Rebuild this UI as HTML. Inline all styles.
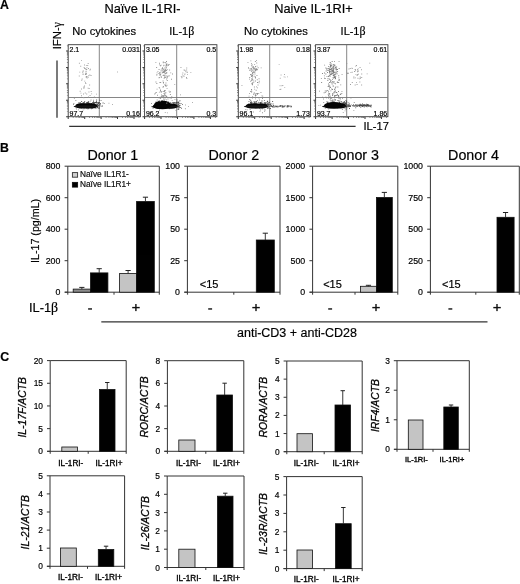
<!DOCTYPE html>
<html><head><meta charset="utf-8"><title>Figure</title>
<style>
html,body{margin:0;padding:0;background:#fff;}
body{width:520px;height:584px;overflow:hidden;font-family:'Liberation Sans', sans-serif;}
svg{display:block;will-change:transform;opacity:0.999;font-family:'Liberation Sans',sans-serif;}
</style></head><body>
<svg width="520" height="584" viewBox="0 0 520 584">
<rect x="0" y="0" width="520" height="584" fill="#ffffff"/>
<text x="-0.1" y="8.6" font-size="12.3" text-anchor="start" font-weight="bold" font-style="normal" fill="#000" stroke="#000" stroke-width="0.18">A</text>
<text x="-0.1" y="152.4" font-size="12.3" text-anchor="start" font-weight="bold" font-style="normal" fill="#000" stroke="#000" stroke-width="0.18">B</text>
<text x="0.2" y="361.0" font-size="12.3" text-anchor="start" font-weight="bold" font-style="normal" fill="#000" stroke="#000" stroke-width="0.18">C</text>
<text x="104.4" y="12.9" font-size="12.8" text-anchor="start" font-weight="normal" font-style="normal" fill="#000" stroke="#000" stroke-width="0.18">Naïve IL-1RI-</text>
<text x="274.2" y="12.9" font-size="12.8" text-anchor="start" font-weight="normal" font-style="normal" fill="#000" stroke="#000" stroke-width="0.18">Naive IL-1RI+</text>
<text x="72.3" y="34.8" font-size="11.15" text-anchor="start" font-weight="normal" font-style="normal" fill="#000" stroke="#000" stroke-width="0.18">No cytokines</text>
<text x="244.0" y="34.8" font-size="11.15" text-anchor="start" font-weight="normal" font-style="normal" fill="#000" stroke="#000" stroke-width="0.18">No cytokines</text>
<text x="169.3" y="34.8" font-size="10.95" fill="#000" stroke="#000" stroke-width="0.18">IL-1<tspan font-family="Liberation Serif, serif" font-size="11.9">β</tspan></text>
<text x="340.6" y="34.8" font-size="10.95" fill="#000" stroke="#000" stroke-width="0.18">IL-1<tspan font-family="Liberation Serif, serif" font-size="11.9">β</tspan></text>
<text x="61.4" y="49.3" font-size="11.3" fill="#000" stroke="#000" stroke-width="0.18" transform="rotate(-90 61.4 49.3)">IFN-<tspan font-family="Liberation Serif, serif" font-size="11.5">γ</tspan></text>
<line x1="57" y1="60.5" x2="57" y2="117.7" stroke="#333" stroke-width="1.3"/>
<line x1="69.2" y1="126.4" x2="355.6" y2="126.4" stroke="#333" stroke-width="1.2"/>
<text x="363.4" y="129.7" font-size="11.2" text-anchor="start" font-weight="normal" font-style="normal" fill="#000" stroke="#000" stroke-width="0.18">IL-17</text>
<rect x="68.20" y="44.70" width="72.30" height="72.00" fill="none" stroke="#3a3a3a" stroke-width="0.9"/>
<line x1="99.3" y1="44.7" x2="99.3" y2="116.7" stroke="#707070" stroke-width="0.85"/>
<line x1="68.2" y1="97.5" x2="140.5" y2="97.5" stroke="#707070" stroke-width="0.85"/>
<path d="M66.1 116.2h2v1h-2zM67.7 116.9h1v2h-1zM66.1 99.8h2v1h-2zM84.2 116.9h1v2h-1zM66.1 83.3h2v1h-2zM100.6 116.9h1v2h-1zM66.1 66.9h2v1h-2zM117.0 116.9h1v2h-1zM66.1 50.4h2v1h-2zM133.5 116.9h1v2h-1z" fill="#333"/>
<path d="M66.9 111.4h1.1v0.7h-1.1zM72.8 117.0h0.7v1.1h-0.7zM66.9 108.5h1.1v0.7h-1.1zM75.7 117.0h0.7v1.1h-0.7zM66.9 106.4h1.1v0.7h-1.1zM77.8 117.0h0.7v1.1h-0.7zM66.9 104.9h1.1v0.7h-1.1zM79.3 117.0h0.7v1.1h-0.7zM66.9 103.5h1.1v0.7h-1.1zM80.7 117.0h0.7v1.1h-0.7zM66.9 102.4h1.1v0.7h-1.1zM81.8 117.0h0.7v1.1h-0.7zM66.9 101.5h1.1v0.7h-1.1zM82.7 117.0h0.7v1.1h-0.7zM66.9 100.7h1.1v0.7h-1.1zM83.5 117.0h0.7v1.1h-0.7zM66.9 94.9h1.1v0.7h-1.1zM89.3 117.0h0.7v1.1h-0.7zM66.9 92.1h1.1v0.7h-1.1zM92.1 117.0h0.7v1.1h-0.7zM66.9 90.0h1.1v0.7h-1.1zM94.2 117.0h0.7v1.1h-0.7zM66.9 88.4h1.1v0.7h-1.1zM95.8 117.0h0.7v1.1h-0.7zM66.9 87.1h1.1v0.7h-1.1zM97.1 117.0h0.7v1.1h-0.7zM66.9 86.0h1.1v0.7h-1.1zM98.2 117.0h0.7v1.1h-0.7zM66.9 85.0h1.1v0.7h-1.1zM99.2 117.0h0.7v1.1h-0.7zM66.9 84.2h1.1v0.7h-1.1zM100.0 117.0h0.7v1.1h-0.7zM66.9 78.5h1.1v0.7h-1.1zM105.7 117.0h0.7v1.1h-0.7zM66.9 75.6h1.1v0.7h-1.1zM108.6 117.0h0.7v1.1h-0.7zM66.9 73.5h1.1v0.7h-1.1zM110.7 117.0h0.7v1.1h-0.7zM66.9 72.0h1.1v0.7h-1.1zM112.2 117.0h0.7v1.1h-0.7zM66.9 70.6h1.1v0.7h-1.1zM113.6 117.0h0.7v1.1h-0.7zM66.9 69.5h1.1v0.7h-1.1zM114.7 117.0h0.7v1.1h-0.7zM66.9 68.6h1.1v0.7h-1.1zM115.6 117.0h0.7v1.1h-0.7zM66.9 67.8h1.1v0.7h-1.1zM116.4 117.0h0.7v1.1h-0.7zM66.9 62.0h1.1v0.7h-1.1zM122.2 117.0h0.7v1.1h-0.7zM66.9 59.2h1.1v0.7h-1.1zM125.0 117.0h0.7v1.1h-0.7zM66.9 57.1h1.1v0.7h-1.1zM127.1 117.0h0.7v1.1h-0.7zM66.9 55.5h1.1v0.7h-1.1zM128.7 117.0h0.7v1.1h-0.7zM66.9 54.2h1.1v0.7h-1.1zM130.0 117.0h0.7v1.1h-0.7zM66.9 53.1h1.1v0.7h-1.1zM131.1 117.0h0.7v1.1h-0.7zM66.9 52.1h1.1v0.7h-1.1zM132.1 117.0h0.7v1.1h-0.7zM66.9 51.3h1.1v0.7h-1.1zM132.9 117.0h0.7v1.1h-0.7zM66.9 45.6h1.1v0.7h-1.1zM138.6 117.0h0.7v1.1h-0.7z" fill="#6a6a6a"/>
<text x="69.5" y="51.8" font-size="7.0" text-anchor="start" font-weight="normal" font-style="normal" fill="#000" stroke="#000" stroke-width="0.18">2.1</text>
<text x="139.8" y="51.8" font-size="7.0" text-anchor="end" font-weight="normal" font-style="normal" fill="#000" stroke="#000" stroke-width="0.18">0.031</text>
<text x="69.5" y="116.0" font-size="7.0" text-anchor="start" font-weight="normal" font-style="normal" fill="#000" stroke="#000" stroke-width="0.18">97.7</text>
<text x="139.8" y="116.0" font-size="7.0" text-anchor="end" font-weight="normal" font-style="normal" fill="#000" stroke="#000" stroke-width="0.18">0.16</text>
<path d="M85.4 106.3h0.9v0.9h-0.9zM85.6 104.0h0.9v0.9h-0.9zM80.7 104.3h0.9v0.9h-0.9zM95.0 106.1h0.9v0.9h-0.9zM94.5 105.6h0.9v0.9h-0.9zM90.0 105.4h0.9v0.9h-0.9zM75.5 107.3h0.9v0.9h-0.9zM90.7 106.3h0.9v0.9h-0.9zM75.4 100.0h0.9v0.9h-0.9zM81.0 103.6h0.9v0.9h-0.9zM89.3 104.8h0.9v0.9h-0.9zM90.8 103.1h0.9v0.9h-0.9zM89.4 106.0h0.9v0.9h-0.9zM82.6 109.7h0.9v0.9h-0.9zM91.1 108.3h0.9v0.9h-0.9zM82.9 102.8h0.9v0.9h-0.9zM84.8 104.6h0.9v0.9h-0.9zM91.6 105.6h0.9v0.9h-0.9zM84.1 102.2h0.9v0.9h-0.9zM83.6 108.3h0.9v0.9h-0.9zM81.5 105.6h0.9v0.9h-0.9zM90.2 100.7h0.9v0.9h-0.9zM87.5 108.6h0.9v0.9h-0.9zM73.1 104.0h0.9v0.9h-0.9zM86.5 102.6h0.9v0.9h-0.9zM90.7 104.7h0.9v0.9h-0.9zM76.9 107.2h0.9v0.9h-0.9zM91.9 107.5h0.9v0.9h-0.9zM97.3 105.9h0.9v0.9h-0.9zM88.0 101.3h0.9v0.9h-0.9zM91.5 103.2h0.9v0.9h-0.9zM84.0 101.4h0.9v0.9h-0.9zM80.4 103.4h0.9v0.9h-0.9zM96.2 99.2h0.9v0.9h-0.9zM77.0 105.6h0.9v0.9h-0.9zM97.3 106.5h0.9v0.9h-0.9zM73.9 97.8h0.9v0.9h-0.9zM89.7 102.8h0.9v0.9h-0.9zM79.4 107.6h0.9v0.9h-0.9zM94.9 105.3h0.9v0.9h-0.9zM88.9 106.1h0.9v0.9h-0.9zM98.4 106.6h0.9v0.9h-0.9zM90.8 106.4h0.9v0.9h-0.9zM76.2 108.5h0.9v0.9h-0.9zM93.9 106.4h0.9v0.9h-0.9zM73.4 103.1h0.9v0.9h-0.9zM93.1 99.8h0.9v0.9h-0.9zM85.9 107.8h0.9v0.9h-0.9zM78.0 109.4h0.9v0.9h-0.9zM91.1 104.5h0.9v0.9h-0.9zM89.5 106.7h0.9v0.9h-0.9zM88.0 108.1h0.9v0.9h-0.9zM82.6 103.7h0.9v0.9h-0.9zM94.5 105.0h0.9v0.9h-0.9zM81.0 107.6h0.9v0.9h-0.9zM97.5 103.7h0.9v0.9h-0.9zM77.5 104.5h0.9v0.9h-0.9zM86.2 104.1h0.9v0.9h-0.9zM97.0 102.0h0.9v0.9h-0.9zM96.0 101.3h0.9v0.9h-0.9zM81.7 106.7h0.9v0.9h-0.9zM95.1 107.3h0.9v0.9h-0.9zM89.6 105.3h0.9v0.9h-0.9zM88.3 106.5h0.9v0.9h-0.9zM86.0 105.7h0.9v0.9h-0.9zM91.2 104.9h0.9v0.9h-0.9zM92.5 106.5h0.9v0.9h-0.9zM101.3 105.8h0.9v0.9h-0.9zM84.2 103.9h0.9v0.9h-0.9zM87.1 107.5h0.9v0.9h-0.9z" fill="#8a8a8a"/>
<path d="M95.9 105.5h0.9v0.9h-0.9zM100.6 99.9h0.9v0.9h-0.9zM94.1 105.3h0.9v0.9h-0.9zM97.5 105.3h0.9v0.9h-0.9zM95.7 106.0h0.9v0.9h-0.9zM97.2 103.8h0.9v0.9h-0.9zM101.9 105.5h0.9v0.9h-0.9zM95.4 104.6h0.9v0.9h-0.9zM96.1 104.7h0.9v0.9h-0.9zM90.6 103.9h0.9v0.9h-0.9zM98.8 102.6h0.9v0.9h-0.9zM96.5 106.6h0.9v0.9h-0.9zM98.5 107.6h0.9v0.9h-0.9zM92.9 104.1h0.9v0.9h-0.9zM95.8 106.0h0.9v0.9h-0.9zM99.0 99.7h0.9v0.9h-0.9zM99.0 102.0h0.9v0.9h-0.9zM98.1 102.0h0.9v0.9h-0.9zM97.0 107.1h0.9v0.9h-0.9zM96.3 105.2h0.9v0.9h-0.9zM98.4 105.1h0.9v0.9h-0.9zM96.4 107.7h0.9v0.9h-0.9zM98.9 104.2h0.9v0.9h-0.9zM102.6 102.6h0.9v0.9h-0.9zM98.6 104.3h0.9v0.9h-0.9zM96.9 106.1h0.9v0.9h-0.9zM97.1 106.0h0.9v0.9h-0.9zM93.2 101.9h0.9v0.9h-0.9zM98.0 103.0h0.9v0.9h-0.9zM94.3 102.0h0.9v0.9h-0.9zM99.4 106.2h0.9v0.9h-0.9zM99.8 103.0h0.9v0.9h-0.9zM96.6 102.6h0.9v0.9h-0.9zM98.3 107.8h0.9v0.9h-0.9zM94.6 107.8h0.9v0.9h-0.9zM98.8 104.5h0.9v0.9h-0.9zM92.3 107.5h0.9v0.9h-0.9zM96.4 103.7h0.9v0.9h-0.9zM97.5 105.6h0.9v0.9h-0.9zM99.9 102.9h0.9v0.9h-0.9zM99.1 107.6h0.9v0.9h-0.9zM99.8 104.5h0.9v0.9h-0.9zM95.0 106.7h0.9v0.9h-0.9zM96.9 105.0h0.9v0.9h-0.9zM99.7 104.3h0.9v0.9h-0.9zM88.2 103.6h0.9v0.9h-0.9zM95.1 102.2h0.9v0.9h-0.9zM94.2 102.8h0.9v0.9h-0.9zM83.6 103.3h0.9v0.9h-0.9zM82.6 101.9h0.9v0.9h-0.9zM86.1 102.2h0.9v0.9h-0.9zM80.4 103.4h0.9v0.9h-0.9zM86.9 102.1h0.9v0.9h-0.9zM89.4 103.5h0.9v0.9h-0.9zM96.0 102.0h0.9v0.9h-0.9zM87.7 101.4h0.9v0.9h-0.9zM78.2 102.4h0.9v0.9h-0.9zM86.5 102.6h0.9v0.9h-0.9zM93.6 102.7h0.9v0.9h-0.9zM81.2 101.0h0.9v0.9h-0.9zM88.8 102.9h0.9v0.9h-0.9zM84.3 101.3h0.9v0.9h-0.9zM93.3 102.5h0.9v0.9h-0.9zM79.9 101.9h0.9v0.9h-0.9zM83.3 102.3h0.9v0.9h-0.9zM93.1 101.3h0.9v0.9h-0.9zM92.8 102.5h0.9v0.9h-0.9zM95.9 101.3h0.9v0.9h-0.9zM87.8 103.1h0.9v0.9h-0.9zM87.9 102.2h0.9v0.9h-0.9zM88.4 101.6h0.9v0.9h-0.9zM87.3 104.0h0.9v0.9h-0.9zM95.2 102.0h0.9v0.9h-0.9zM96.5 102.5h0.9v0.9h-0.9zM96.5 103.9h0.9v0.9h-0.9zM94.4 102.9h0.9v0.9h-0.9zM86.6 103.0h0.9v0.9h-0.9zM79.2 102.6h0.9v0.9h-0.9zM91.1 103.0h0.9v0.9h-0.9zM93.3 103.1h0.9v0.9h-0.9zM92.0 102.3h0.9v0.9h-0.9zM90.9 103.9h0.9v0.9h-0.9zM97.0 104.2h0.9v0.9h-0.9zM82.1 103.6h0.9v0.9h-0.9zM87.4 102.3h0.9v0.9h-0.9z" fill="#4a4a4a"/>
<rect x="75.4" y="103.35" width="21.6" height="5.25" rx="5.5" ry="2.65" fill="#050505"/>
<ellipse cx="85.7" cy="106.50" rx="12.2" ry="1.3" fill="#151515"/>
<rect x="144.60" y="44.70" width="72.30" height="72.00" fill="none" stroke="#3a3a3a" stroke-width="0.9"/>
<line x1="176.7" y1="44.7" x2="176.7" y2="116.7" stroke="#707070" stroke-width="0.85"/>
<line x1="144.6" y1="97.5" x2="216.89999999999998" y2="97.5" stroke="#707070" stroke-width="0.85"/>
<path d="M142.5 116.2h2v1h-2zM144.1 116.9h1v2h-1zM142.5 99.8h2v1h-2zM160.5 116.9h1v2h-1zM142.5 83.3h2v1h-2zM177.0 116.9h1v2h-1zM142.5 66.9h2v1h-2zM193.4 116.9h1v2h-1zM142.5 50.4h2v1h-2zM209.9 116.9h1v2h-1z" fill="#333"/>
<path d="M143.3 111.4h1.1v0.7h-1.1zM149.2 117.0h0.7v1.1h-0.7zM143.3 108.5h1.1v0.7h-1.1zM152.1 117.0h0.7v1.1h-0.7zM143.3 106.4h1.1v0.7h-1.1zM154.2 117.0h0.7v1.1h-0.7zM143.3 104.9h1.1v0.7h-1.1zM155.7 117.0h0.7v1.1h-0.7zM143.3 103.5h1.1v0.7h-1.1zM157.1 117.0h0.7v1.1h-0.7zM143.3 102.4h1.1v0.7h-1.1zM158.2 117.0h0.7v1.1h-0.7zM143.3 101.5h1.1v0.7h-1.1zM159.1 117.0h0.7v1.1h-0.7zM143.3 100.7h1.1v0.7h-1.1zM159.9 117.0h0.7v1.1h-0.7zM143.3 94.9h1.1v0.7h-1.1zM165.7 117.0h0.7v1.1h-0.7zM143.3 92.1h1.1v0.7h-1.1zM168.5 117.0h0.7v1.1h-0.7zM143.3 90.0h1.1v0.7h-1.1zM170.6 117.0h0.7v1.1h-0.7zM143.3 88.4h1.1v0.7h-1.1zM172.2 117.0h0.7v1.1h-0.7zM143.3 87.1h1.1v0.7h-1.1zM173.5 117.0h0.7v1.1h-0.7zM143.3 86.0h1.1v0.7h-1.1zM174.6 117.0h0.7v1.1h-0.7zM143.3 85.0h1.1v0.7h-1.1zM175.6 117.0h0.7v1.1h-0.7zM143.3 84.2h1.1v0.7h-1.1zM176.4 117.0h0.7v1.1h-0.7zM143.3 78.5h1.1v0.7h-1.1zM182.1 117.0h0.7v1.1h-0.7zM143.3 75.6h1.1v0.7h-1.1zM185.0 117.0h0.7v1.1h-0.7zM143.3 73.5h1.1v0.7h-1.1zM187.1 117.0h0.7v1.1h-0.7zM143.3 72.0h1.1v0.7h-1.1zM188.6 117.0h0.7v1.1h-0.7zM143.3 70.6h1.1v0.7h-1.1zM190.0 117.0h0.7v1.1h-0.7zM143.3 69.5h1.1v0.7h-1.1zM191.1 117.0h0.7v1.1h-0.7zM143.3 68.6h1.1v0.7h-1.1zM192.0 117.0h0.7v1.1h-0.7zM143.3 67.8h1.1v0.7h-1.1zM192.8 117.0h0.7v1.1h-0.7zM143.3 62.0h1.1v0.7h-1.1zM198.6 117.0h0.7v1.1h-0.7zM143.3 59.2h1.1v0.7h-1.1zM201.4 117.0h0.7v1.1h-0.7zM143.3 57.1h1.1v0.7h-1.1zM203.5 117.0h0.7v1.1h-0.7zM143.3 55.5h1.1v0.7h-1.1zM205.1 117.0h0.7v1.1h-0.7zM143.3 54.2h1.1v0.7h-1.1zM206.4 117.0h0.7v1.1h-0.7zM143.3 53.1h1.1v0.7h-1.1zM207.5 117.0h0.7v1.1h-0.7zM143.3 52.1h1.1v0.7h-1.1zM208.5 117.0h0.7v1.1h-0.7zM143.3 51.3h1.1v0.7h-1.1zM209.3 117.0h0.7v1.1h-0.7zM143.3 45.6h1.1v0.7h-1.1zM215.0 117.0h0.7v1.1h-0.7z" fill="#6a6a6a"/>
<text x="145.9" y="51.8" font-size="7.0" text-anchor="start" font-weight="normal" font-style="normal" fill="#000" stroke="#000" stroke-width="0.18">3.05</text>
<text x="216.2" y="51.8" font-size="7.0" text-anchor="end" font-weight="normal" font-style="normal" fill="#000" stroke="#000" stroke-width="0.18">0.5</text>
<text x="145.9" y="116.0" font-size="7.0" text-anchor="start" font-weight="normal" font-style="normal" fill="#000" stroke="#000" stroke-width="0.18">96.2</text>
<text x="216.2" y="116.0" font-size="7.0" text-anchor="end" font-weight="normal" font-style="normal" fill="#000" stroke="#000" stroke-width="0.18">0.3</text>
<path d="M179.5 104.8h0.9v0.9h-0.9zM170.2 107.6h0.9v0.9h-0.9zM159.9 104.9h0.9v0.9h-0.9zM168.3 107.4h0.9v0.9h-0.9zM166.0 104.6h0.9v0.9h-0.9zM159.1 104.1h0.9v0.9h-0.9zM172.5 105.4h0.9v0.9h-0.9zM160.3 102.7h0.9v0.9h-0.9zM184.9 108.3h0.9v0.9h-0.9zM170.7 97.8h0.9v0.9h-0.9zM170.6 106.4h0.9v0.9h-0.9zM178.0 106.3h0.9v0.9h-0.9zM165.8 106.6h0.9v0.9h-0.9zM152.6 108.0h0.9v0.9h-0.9zM168.5 103.1h0.9v0.9h-0.9zM175.5 110.2h0.9v0.9h-0.9zM156.4 103.2h0.9v0.9h-0.9zM168.3 105.6h0.9v0.9h-0.9zM163.5 102.4h0.9v0.9h-0.9zM181.1 108.0h0.9v0.9h-0.9zM157.9 101.3h0.9v0.9h-0.9zM178.2 107.9h0.9v0.9h-0.9zM179.0 107.4h0.9v0.9h-0.9zM160.1 105.8h0.9v0.9h-0.9zM151.1 103.0h0.9v0.9h-0.9zM165.8 106.6h0.9v0.9h-0.9zM161.2 104.8h0.9v0.9h-0.9zM169.5 106.2h0.9v0.9h-0.9zM170.7 105.7h0.9v0.9h-0.9zM164.0 107.3h0.9v0.9h-0.9zM166.6 102.8h0.9v0.9h-0.9zM161.9 105.1h0.9v0.9h-0.9zM165.5 105.5h0.9v0.9h-0.9zM166.2 105.6h0.9v0.9h-0.9zM165.3 101.6h0.9v0.9h-0.9zM169.2 108.1h0.9v0.9h-0.9zM169.3 104.6h0.9v0.9h-0.9zM169.4 102.4h0.9v0.9h-0.9zM153.0 105.3h0.9v0.9h-0.9zM159.7 107.2h0.9v0.9h-0.9zM158.7 97.7h0.9v0.9h-0.9zM159.0 109.5h0.9v0.9h-0.9zM163.6 101.3h0.9v0.9h-0.9zM160.9 106.6h0.9v0.9h-0.9zM169.7 105.6h0.9v0.9h-0.9zM176.6 107.1h0.9v0.9h-0.9zM166.1 106.8h0.9v0.9h-0.9zM177.8 107.8h0.9v0.9h-0.9zM173.4 102.1h0.9v0.9h-0.9zM165.2 107.1h0.9v0.9h-0.9zM164.2 108.1h0.9v0.9h-0.9zM170.4 107.6h0.9v0.9h-0.9zM164.8 112.2h0.9v0.9h-0.9zM174.9 104.5h0.9v0.9h-0.9zM166.9 112.4h0.9v0.9h-0.9zM163.8 107.5h0.9v0.9h-0.9zM173.1 105.1h0.9v0.9h-0.9zM158.1 105.6h0.9v0.9h-0.9zM168.8 108.3h0.9v0.9h-0.9zM171.7 105.2h0.9v0.9h-0.9zM172.2 106.6h0.9v0.9h-0.9zM167.7 105.3h0.9v0.9h-0.9zM164.5 107.0h0.9v0.9h-0.9zM158.9 103.3h0.9v0.9h-0.9zM166.3 101.0h0.9v0.9h-0.9zM163.2 99.5h0.9v0.9h-0.9zM161.5 106.7h0.9v0.9h-0.9zM170.2 104.9h0.9v0.9h-0.9zM164.6 101.1h0.9v0.9h-0.9zM179.0 106.5h0.9v0.9h-0.9z" fill="#8a8a8a"/>
<path d="M179.4 103.1h0.9v0.9h-0.9zM176.6 101.3h0.9v0.9h-0.9zM178.7 106.6h0.9v0.9h-0.9zM172.8 104.7h0.9v0.9h-0.9zM178.4 101.5h0.9v0.9h-0.9zM173.0 102.8h0.9v0.9h-0.9zM175.6 102.1h0.9v0.9h-0.9zM177.1 105.3h0.9v0.9h-0.9zM178.4 106.1h0.9v0.9h-0.9zM180.3 107.0h0.9v0.9h-0.9zM174.1 103.8h0.9v0.9h-0.9zM174.7 102.8h0.9v0.9h-0.9zM176.8 104.8h0.9v0.9h-0.9zM178.1 101.8h0.9v0.9h-0.9zM174.3 104.8h0.9v0.9h-0.9zM176.6 104.2h0.9v0.9h-0.9zM176.9 103.4h0.9v0.9h-0.9zM178.5 105.5h0.9v0.9h-0.9zM176.8 103.5h0.9v0.9h-0.9zM176.6 99.6h0.9v0.9h-0.9zM174.8 104.9h0.9v0.9h-0.9zM173.7 105.2h0.9v0.9h-0.9zM177.3 102.2h0.9v0.9h-0.9zM176.4 104.2h0.9v0.9h-0.9zM178.0 106.0h0.9v0.9h-0.9zM176.9 103.2h0.9v0.9h-0.9zM176.7 104.7h0.9v0.9h-0.9zM178.6 105.4h0.9v0.9h-0.9zM175.4 102.2h0.9v0.9h-0.9zM176.2 103.4h0.9v0.9h-0.9zM174.6 104.6h0.9v0.9h-0.9zM175.9 105.0h0.9v0.9h-0.9zM178.2 104.0h0.9v0.9h-0.9zM182.1 104.2h0.9v0.9h-0.9zM179.4 105.0h0.9v0.9h-0.9zM179.5 100.3h0.9v0.9h-0.9zM175.3 105.3h0.9v0.9h-0.9zM178.3 109.2h0.9v0.9h-0.9zM177.7 107.2h0.9v0.9h-0.9zM178.7 106.6h0.9v0.9h-0.9zM178.1 104.5h0.9v0.9h-0.9zM178.1 102.8h0.9v0.9h-0.9zM179.6 102.9h0.9v0.9h-0.9zM177.5 108.8h0.9v0.9h-0.9zM176.5 104.8h0.9v0.9h-0.9zM155.6 101.5h0.9v0.9h-0.9zM162.3 102.7h0.9v0.9h-0.9zM158.7 102.1h0.9v0.9h-0.9zM174.4 103.3h0.9v0.9h-0.9zM155.5 102.6h0.9v0.9h-0.9zM158.2 100.7h0.9v0.9h-0.9zM176.3 102.1h0.9v0.9h-0.9zM162.0 100.5h0.9v0.9h-0.9zM163.9 99.7h0.9v0.9h-0.9zM168.8 104.9h0.9v0.9h-0.9zM163.6 101.9h0.9v0.9h-0.9zM156.6 103.0h0.9v0.9h-0.9zM157.8 103.0h0.9v0.9h-0.9zM176.6 101.9h0.9v0.9h-0.9zM161.1 102.5h0.9v0.9h-0.9zM159.8 103.8h0.9v0.9h-0.9zM163.9 104.6h0.9v0.9h-0.9zM173.8 102.0h0.9v0.9h-0.9zM169.7 104.6h0.9v0.9h-0.9zM167.9 101.4h0.9v0.9h-0.9zM171.7 104.1h0.9v0.9h-0.9zM165.6 103.1h0.9v0.9h-0.9zM172.4 102.1h0.9v0.9h-0.9zM156.6 102.0h0.9v0.9h-0.9zM176.4 103.4h0.9v0.9h-0.9zM163.2 103.4h0.9v0.9h-0.9zM162.2 102.4h0.9v0.9h-0.9zM161.4 99.9h0.9v0.9h-0.9zM170.3 102.2h0.9v0.9h-0.9zM164.4 103.8h0.9v0.9h-0.9zM159.3 103.0h0.9v0.9h-0.9zM175.9 103.2h0.9v0.9h-0.9zM166.7 103.0h0.9v0.9h-0.9zM177.9 104.7h0.9v0.9h-0.9zM165.6 103.0h0.9v0.9h-0.9zM157.5 103.1h0.9v0.9h-0.9zM163.2 103.2h0.9v0.9h-0.9zM161.3 103.0h0.9v0.9h-0.9zM168.3 103.9h0.9v0.9h-0.9zM164.8 101.5h0.9v0.9h-0.9z" fill="#4a4a4a"/>
<rect x="153.1" y="103.55" width="24.3" height="5.25" rx="5.5" ry="2.65" fill="#050505"/>
<ellipse cx="164.8" cy="106.70" rx="13.6" ry="1.3" fill="#151515"/>
<ellipse cx="162.5" cy="105.0" rx="8.5" ry="4.2" fill="#050505"/>
<ellipse cx="160" cy="106.6" rx="7" ry="2.4" fill="#050505"/>
<rect x="238.30" y="44.70" width="72.30" height="72.00" fill="none" stroke="#3a3a3a" stroke-width="0.9"/>
<line x1="269.7" y1="44.7" x2="269.7" y2="116.7" stroke="#707070" stroke-width="0.85"/>
<line x1="238.3" y1="97.5" x2="310.6" y2="97.5" stroke="#707070" stroke-width="0.85"/>
<path d="M236.2 116.2h2v1h-2zM237.8 116.9h1v2h-1zM236.2 99.8h2v1h-2zM254.2 116.9h1v2h-1zM236.2 83.3h2v1h-2zM270.7 116.9h1v2h-1zM236.2 66.9h2v1h-2zM287.1 116.9h1v2h-1zM236.2 50.4h2v1h-2zM303.6 116.9h1v2h-1z" fill="#333"/>
<path d="M237.0 111.4h1.1v0.7h-1.1zM242.9 117.0h0.7v1.1h-0.7zM237.0 108.5h1.1v0.7h-1.1zM245.8 117.0h0.7v1.1h-0.7zM237.0 106.4h1.1v0.7h-1.1zM247.9 117.0h0.7v1.1h-0.7zM237.0 104.9h1.1v0.7h-1.1zM249.4 117.0h0.7v1.1h-0.7zM237.0 103.5h1.1v0.7h-1.1zM250.8 117.0h0.7v1.1h-0.7zM237.0 102.4h1.1v0.7h-1.1zM251.9 117.0h0.7v1.1h-0.7zM237.0 101.5h1.1v0.7h-1.1zM252.8 117.0h0.7v1.1h-0.7zM237.0 100.7h1.1v0.7h-1.1zM253.6 117.0h0.7v1.1h-0.7zM237.0 94.9h1.1v0.7h-1.1zM259.4 117.0h0.7v1.1h-0.7zM237.0 92.1h1.1v0.7h-1.1zM262.2 117.0h0.7v1.1h-0.7zM237.0 90.0h1.1v0.7h-1.1zM264.3 117.0h0.7v1.1h-0.7zM237.0 88.4h1.1v0.7h-1.1zM265.9 117.0h0.7v1.1h-0.7zM237.0 87.1h1.1v0.7h-1.1zM267.2 117.0h0.7v1.1h-0.7zM237.0 86.0h1.1v0.7h-1.1zM268.3 117.0h0.7v1.1h-0.7zM237.0 85.0h1.1v0.7h-1.1zM269.3 117.0h0.7v1.1h-0.7zM237.0 84.2h1.1v0.7h-1.1zM270.1 117.0h0.7v1.1h-0.7zM237.0 78.5h1.1v0.7h-1.1zM275.8 117.0h0.7v1.1h-0.7zM237.0 75.6h1.1v0.7h-1.1zM278.7 117.0h0.7v1.1h-0.7zM237.0 73.5h1.1v0.7h-1.1zM280.8 117.0h0.7v1.1h-0.7zM237.0 72.0h1.1v0.7h-1.1zM282.3 117.0h0.7v1.1h-0.7zM237.0 70.6h1.1v0.7h-1.1zM283.7 117.0h0.7v1.1h-0.7zM237.0 69.5h1.1v0.7h-1.1zM284.8 117.0h0.7v1.1h-0.7zM237.0 68.6h1.1v0.7h-1.1zM285.7 117.0h0.7v1.1h-0.7zM237.0 67.8h1.1v0.7h-1.1zM286.5 117.0h0.7v1.1h-0.7zM237.0 62.0h1.1v0.7h-1.1zM292.3 117.0h0.7v1.1h-0.7zM237.0 59.2h1.1v0.7h-1.1zM295.1 117.0h0.7v1.1h-0.7zM237.0 57.1h1.1v0.7h-1.1zM297.2 117.0h0.7v1.1h-0.7zM237.0 55.5h1.1v0.7h-1.1zM298.8 117.0h0.7v1.1h-0.7zM237.0 54.2h1.1v0.7h-1.1zM300.1 117.0h0.7v1.1h-0.7zM237.0 53.1h1.1v0.7h-1.1zM301.2 117.0h0.7v1.1h-0.7zM237.0 52.1h1.1v0.7h-1.1zM302.2 117.0h0.7v1.1h-0.7zM237.0 51.3h1.1v0.7h-1.1zM303.0 117.0h0.7v1.1h-0.7zM237.0 45.6h1.1v0.7h-1.1zM308.7 117.0h0.7v1.1h-0.7z" fill="#6a6a6a"/>
<text x="239.60000000000002" y="51.8" font-size="7.0" text-anchor="start" font-weight="normal" font-style="normal" fill="#000" stroke="#000" stroke-width="0.18">1.98</text>
<text x="309.90000000000003" y="51.8" font-size="7.0" text-anchor="end" font-weight="normal" font-style="normal" fill="#000" stroke="#000" stroke-width="0.18">0.18</text>
<text x="239.60000000000002" y="116.0" font-size="7.0" text-anchor="start" font-weight="normal" font-style="normal" fill="#000" stroke="#000" stroke-width="0.18">96.1</text>
<text x="309.90000000000003" y="116.0" font-size="7.0" text-anchor="end" font-weight="normal" font-style="normal" fill="#000" stroke="#000" stroke-width="0.18">1.73</text>
<path d="M250.4 106.7h0.9v0.9h-0.9zM253.2 106.7h0.9v0.9h-0.9zM263.0 105.8h0.9v0.9h-0.9zM261.3 104.6h0.9v0.9h-0.9zM247.9 104.8h0.9v0.9h-0.9zM260.9 103.4h0.9v0.9h-0.9zM257.1 107.0h0.9v0.9h-0.9zM251.6 106.7h0.9v0.9h-0.9zM270.8 103.3h0.9v0.9h-0.9zM258.8 104.5h0.9v0.9h-0.9zM268.5 105.8h0.9v0.9h-0.9zM264.0 103.0h0.9v0.9h-0.9zM257.6 104.9h0.9v0.9h-0.9zM245.3 108.9h0.9v0.9h-0.9zM264.0 100.0h0.9v0.9h-0.9zM263.0 104.5h0.9v0.9h-0.9zM260.9 105.9h0.9v0.9h-0.9zM247.3 104.3h0.9v0.9h-0.9zM268.2 103.3h0.9v0.9h-0.9zM250.6 101.1h0.9v0.9h-0.9zM249.2 105.8h0.9v0.9h-0.9zM269.6 106.1h0.9v0.9h-0.9zM259.5 111.2h0.9v0.9h-0.9zM254.1 103.0h0.9v0.9h-0.9zM261.4 106.4h0.9v0.9h-0.9zM250.6 101.6h0.9v0.9h-0.9zM259.8 105.6h0.9v0.9h-0.9zM248.6 104.3h0.9v0.9h-0.9zM254.0 106.2h0.9v0.9h-0.9zM256.9 104.7h0.9v0.9h-0.9zM255.3 107.8h0.9v0.9h-0.9zM267.5 103.9h0.9v0.9h-0.9zM263.7 102.8h0.9v0.9h-0.9zM258.3 107.0h0.9v0.9h-0.9zM268.3 103.8h0.9v0.9h-0.9zM257.2 105.4h0.9v0.9h-0.9zM247.3 104.9h0.9v0.9h-0.9zM253.0 105.9h0.9v0.9h-0.9zM249.8 99.4h0.9v0.9h-0.9zM258.0 105.6h0.9v0.9h-0.9zM253.9 107.4h0.9v0.9h-0.9zM255.8 103.2h0.9v0.9h-0.9zM261.1 100.5h0.9v0.9h-0.9zM253.0 104.8h0.9v0.9h-0.9zM263.7 104.4h0.9v0.9h-0.9zM259.9 103.1h0.9v0.9h-0.9zM259.9 109.6h0.9v0.9h-0.9zM252.9 111.5h0.9v0.9h-0.9zM253.2 104.9h0.9v0.9h-0.9zM259.0 107.8h0.9v0.9h-0.9zM249.1 99.0h0.9v0.9h-0.9zM262.0 107.1h0.9v0.9h-0.9zM262.1 112.3h0.9v0.9h-0.9zM259.2 105.6h0.9v0.9h-0.9zM264.3 105.9h0.9v0.9h-0.9zM269.4 101.4h0.9v0.9h-0.9zM255.1 95.3h0.9v0.9h-0.9zM263.4 103.9h0.9v0.9h-0.9zM264.2 110.9h0.9v0.9h-0.9zM257.7 104.2h0.9v0.9h-0.9zM254.3 102.6h0.9v0.9h-0.9zM253.3 106.7h0.9v0.9h-0.9zM258.0 105.1h0.9v0.9h-0.9zM256.5 107.5h0.9v0.9h-0.9zM261.2 104.5h0.9v0.9h-0.9zM262.4 104.5h0.9v0.9h-0.9zM249.7 109.0h0.9v0.9h-0.9zM261.0 102.2h0.9v0.9h-0.9zM265.3 105.9h0.9v0.9h-0.9zM246.8 109.4h0.9v0.9h-0.9z" fill="#8a8a8a"/>
<path d="M268.0 106.5h0.9v0.9h-0.9zM267.7 104.5h0.9v0.9h-0.9zM263.9 106.6h0.9v0.9h-0.9zM267.4 104.3h0.9v0.9h-0.9zM268.1 104.9h0.9v0.9h-0.9zM268.8 104.1h0.9v0.9h-0.9zM267.2 100.7h0.9v0.9h-0.9zM266.4 106.1h0.9v0.9h-0.9zM270.2 104.1h0.9v0.9h-0.9zM267.0 107.8h0.9v0.9h-0.9zM266.6 106.2h0.9v0.9h-0.9zM271.0 104.9h0.9v0.9h-0.9zM270.0 103.5h0.9v0.9h-0.9zM267.8 104.7h0.9v0.9h-0.9zM267.6 106.9h0.9v0.9h-0.9zM272.6 103.5h0.9v0.9h-0.9zM266.0 105.7h0.9v0.9h-0.9zM265.0 105.7h0.9v0.9h-0.9zM268.6 104.3h0.9v0.9h-0.9zM268.5 101.9h0.9v0.9h-0.9zM269.0 101.9h0.9v0.9h-0.9zM265.8 103.7h0.9v0.9h-0.9zM266.4 106.4h0.9v0.9h-0.9zM267.5 104.0h0.9v0.9h-0.9zM268.5 107.8h0.9v0.9h-0.9zM267.3 105.5h0.9v0.9h-0.9zM270.0 105.3h0.9v0.9h-0.9zM264.5 109.5h0.9v0.9h-0.9zM272.2 101.0h0.9v0.9h-0.9zM267.2 105.6h0.9v0.9h-0.9zM269.4 106.1h0.9v0.9h-0.9zM266.7 102.8h0.9v0.9h-0.9zM267.5 106.8h0.9v0.9h-0.9zM264.9 102.8h0.9v0.9h-0.9zM267.2 101.1h0.9v0.9h-0.9zM266.7 104.0h0.9v0.9h-0.9zM268.3 103.5h0.9v0.9h-0.9zM265.4 104.1h0.9v0.9h-0.9zM267.2 103.5h0.9v0.9h-0.9zM267.3 106.2h0.9v0.9h-0.9zM269.9 108.0h0.9v0.9h-0.9zM265.6 104.0h0.9v0.9h-0.9zM261.8 108.4h0.9v0.9h-0.9zM265.7 104.7h0.9v0.9h-0.9zM268.4 102.2h0.9v0.9h-0.9zM268.1 103.5h0.9v0.9h-0.9zM264.7 103.3h0.9v0.9h-0.9zM265.1 102.8h0.9v0.9h-0.9zM254.1 102.5h0.9v0.9h-0.9zM250.6 103.6h0.9v0.9h-0.9zM259.9 105.1h0.9v0.9h-0.9zM266.9 101.2h0.9v0.9h-0.9zM257.2 104.0h0.9v0.9h-0.9zM253.4 103.0h0.9v0.9h-0.9zM250.3 100.2h0.9v0.9h-0.9zM260.2 102.1h0.9v0.9h-0.9zM255.6 102.1h0.9v0.9h-0.9zM251.0 102.8h0.9v0.9h-0.9zM260.2 103.3h0.9v0.9h-0.9zM261.3 102.6h0.9v0.9h-0.9zM254.8 102.7h0.9v0.9h-0.9zM261.8 102.9h0.9v0.9h-0.9zM252.3 103.4h0.9v0.9h-0.9zM264.2 102.3h0.9v0.9h-0.9zM250.2 102.5h0.9v0.9h-0.9zM256.1 101.2h0.9v0.9h-0.9zM250.0 102.2h0.9v0.9h-0.9zM251.5 102.3h0.9v0.9h-0.9zM253.9 101.6h0.9v0.9h-0.9zM254.4 103.4h0.9v0.9h-0.9zM259.6 102.3h0.9v0.9h-0.9zM255.4 100.9h0.9v0.9h-0.9zM268.2 103.6h0.9v0.9h-0.9zM255.5 103.1h0.9v0.9h-0.9zM252.3 104.1h0.9v0.9h-0.9zM248.3 103.5h0.9v0.9h-0.9zM264.7 102.0h0.9v0.9h-0.9zM256.4 103.4h0.9v0.9h-0.9zM251.5 101.9h0.9v0.9h-0.9zM248.5 101.2h0.9v0.9h-0.9zM266.5 102.1h0.9v0.9h-0.9zM250.0 101.9h0.9v0.9h-0.9zM258.3 101.9h0.9v0.9h-0.9zM251.1 102.3h0.9v0.9h-0.9zM266.8 103.8h0.9v0.9h-0.9z" fill="#4a4a4a"/>
<rect x="245.8" y="103.55" width="21.9" height="4.85" rx="5.5" ry="2.45" fill="#050505"/>
<ellipse cx="256.2" cy="106.50" rx="12.4" ry="1.3" fill="#151515"/>
<rect x="315.60" y="44.70" width="72.30" height="72.00" fill="none" stroke="#3a3a3a" stroke-width="0.9"/>
<line x1="346.7" y1="44.7" x2="346.7" y2="116.7" stroke="#707070" stroke-width="0.85"/>
<line x1="315.6" y1="97.5" x2="387.90000000000003" y2="97.5" stroke="#707070" stroke-width="0.85"/>
<path d="M313.5 116.2h2v1h-2zM315.1 116.9h1v2h-1zM313.5 99.8h2v1h-2zM331.6 116.9h1v2h-1zM313.5 83.3h2v1h-2zM348.0 116.9h1v2h-1zM313.5 66.9h2v1h-2zM364.5 116.9h1v2h-1zM313.5 50.4h2v1h-2zM380.9 116.9h1v2h-1z" fill="#333"/>
<path d="M314.3 111.4h1.1v0.7h-1.1zM320.2 117.0h0.7v1.1h-0.7zM314.3 108.5h1.1v0.7h-1.1zM323.1 117.0h0.7v1.1h-0.7zM314.3 106.4h1.1v0.7h-1.1zM325.2 117.0h0.7v1.1h-0.7zM314.3 104.9h1.1v0.7h-1.1zM326.7 117.0h0.7v1.1h-0.7zM314.3 103.5h1.1v0.7h-1.1zM328.1 117.0h0.7v1.1h-0.7zM314.3 102.4h1.1v0.7h-1.1zM329.2 117.0h0.7v1.1h-0.7zM314.3 101.5h1.1v0.7h-1.1zM330.1 117.0h0.7v1.1h-0.7zM314.3 100.7h1.1v0.7h-1.1zM330.9 117.0h0.7v1.1h-0.7zM314.3 94.9h1.1v0.7h-1.1zM336.7 117.0h0.7v1.1h-0.7zM314.3 92.1h1.1v0.7h-1.1zM339.5 117.0h0.7v1.1h-0.7zM314.3 90.0h1.1v0.7h-1.1zM341.6 117.0h0.7v1.1h-0.7zM314.3 88.4h1.1v0.7h-1.1zM343.2 117.0h0.7v1.1h-0.7zM314.3 87.1h1.1v0.7h-1.1zM344.5 117.0h0.7v1.1h-0.7zM314.3 86.0h1.1v0.7h-1.1zM345.6 117.0h0.7v1.1h-0.7zM314.3 85.0h1.1v0.7h-1.1zM346.6 117.0h0.7v1.1h-0.7zM314.3 84.2h1.1v0.7h-1.1zM347.4 117.0h0.7v1.1h-0.7zM314.3 78.5h1.1v0.7h-1.1zM353.1 117.0h0.7v1.1h-0.7zM314.3 75.6h1.1v0.7h-1.1zM356.0 117.0h0.7v1.1h-0.7zM314.3 73.5h1.1v0.7h-1.1zM358.1 117.0h0.7v1.1h-0.7zM314.3 72.0h1.1v0.7h-1.1zM359.6 117.0h0.7v1.1h-0.7zM314.3 70.6h1.1v0.7h-1.1zM361.0 117.0h0.7v1.1h-0.7zM314.3 69.5h1.1v0.7h-1.1zM362.1 117.0h0.7v1.1h-0.7zM314.3 68.6h1.1v0.7h-1.1zM363.0 117.0h0.7v1.1h-0.7zM314.3 67.8h1.1v0.7h-1.1zM363.8 117.0h0.7v1.1h-0.7zM314.3 62.0h1.1v0.7h-1.1zM369.6 117.0h0.7v1.1h-0.7zM314.3 59.2h1.1v0.7h-1.1zM372.4 117.0h0.7v1.1h-0.7zM314.3 57.1h1.1v0.7h-1.1zM374.5 117.0h0.7v1.1h-0.7zM314.3 55.5h1.1v0.7h-1.1zM376.1 117.0h0.7v1.1h-0.7zM314.3 54.2h1.1v0.7h-1.1zM377.4 117.0h0.7v1.1h-0.7zM314.3 53.1h1.1v0.7h-1.1zM378.5 117.0h0.7v1.1h-0.7zM314.3 52.1h1.1v0.7h-1.1zM379.5 117.0h0.7v1.1h-0.7zM314.3 51.3h1.1v0.7h-1.1zM380.3 117.0h0.7v1.1h-0.7zM314.3 45.6h1.1v0.7h-1.1zM386.0 117.0h0.7v1.1h-0.7z" fill="#6a6a6a"/>
<text x="316.90000000000003" y="51.8" font-size="7.0" text-anchor="start" font-weight="normal" font-style="normal" fill="#000" stroke="#000" stroke-width="0.18">3.87</text>
<text x="387.20000000000005" y="51.8" font-size="7.0" text-anchor="end" font-weight="normal" font-style="normal" fill="#000" stroke="#000" stroke-width="0.18">0.61</text>
<text x="316.90000000000003" y="116.0" font-size="7.0" text-anchor="start" font-weight="normal" font-style="normal" fill="#000" stroke="#000" stroke-width="0.18">93.7</text>
<text x="387.20000000000005" y="116.0" font-size="7.0" text-anchor="end" font-weight="normal" font-style="normal" fill="#000" stroke="#000" stroke-width="0.18">1.86</text>
<path d="M342.3 106.9h0.9v0.9h-0.9zM342.1 97.9h0.9v0.9h-0.9zM337.1 106.2h0.9v0.9h-0.9zM353.8 102.1h0.9v0.9h-0.9zM333.6 104.9h0.9v0.9h-0.9zM342.2 103.6h0.9v0.9h-0.9zM344.0 102.6h0.9v0.9h-0.9zM337.8 103.3h0.9v0.9h-0.9zM337.1 102.9h0.9v0.9h-0.9zM324.8 107.9h0.9v0.9h-0.9zM338.1 103.2h0.9v0.9h-0.9zM337.4 107.6h0.9v0.9h-0.9zM329.1 104.5h0.9v0.9h-0.9zM339.7 106.3h0.9v0.9h-0.9zM333.6 98.9h0.9v0.9h-0.9zM344.7 105.7h0.9v0.9h-0.9zM336.0 104.0h0.9v0.9h-0.9zM337.8 103.6h0.9v0.9h-0.9zM328.8 102.7h0.9v0.9h-0.9zM331.8 103.1h0.9v0.9h-0.9zM327.8 106.6h0.9v0.9h-0.9zM326.8 106.6h0.9v0.9h-0.9zM328.8 105.8h0.9v0.9h-0.9zM345.6 105.4h0.9v0.9h-0.9zM330.8 104.9h0.9v0.9h-0.9zM337.0 99.9h0.9v0.9h-0.9zM331.7 105.3h0.9v0.9h-0.9zM332.7 105.0h0.9v0.9h-0.9zM341.1 106.9h0.9v0.9h-0.9zM342.3 106.4h0.9v0.9h-0.9zM333.9 104.7h0.9v0.9h-0.9zM334.1 103.9h0.9v0.9h-0.9zM334.7 100.0h0.9v0.9h-0.9zM333.6 104.7h0.9v0.9h-0.9zM329.1 104.7h0.9v0.9h-0.9zM339.6 104.3h0.9v0.9h-0.9zM350.5 97.5h0.9v0.9h-0.9zM334.5 99.7h0.9v0.9h-0.9zM342.8 112.2h0.9v0.9h-0.9zM318.4 105.2h0.9v0.9h-0.9zM339.6 104.0h0.9v0.9h-0.9zM339.8 98.5h0.9v0.9h-0.9zM341.9 105.8h0.9v0.9h-0.9zM336.1 103.2h0.9v0.9h-0.9zM340.4 103.4h0.9v0.9h-0.9zM337.5 103.4h0.9v0.9h-0.9zM320.2 104.7h0.9v0.9h-0.9zM337.4 106.9h0.9v0.9h-0.9zM329.8 104.7h0.9v0.9h-0.9zM340.3 105.2h0.9v0.9h-0.9zM344.6 110.4h0.9v0.9h-0.9zM329.6 99.4h0.9v0.9h-0.9zM341.9 109.1h0.9v0.9h-0.9zM342.4 107.1h0.9v0.9h-0.9zM331.6 102.8h0.9v0.9h-0.9zM342.2 102.2h0.9v0.9h-0.9zM323.3 102.0h0.9v0.9h-0.9zM353.4 110.2h0.9v0.9h-0.9zM331.1 102.8h0.9v0.9h-0.9zM337.6 102.7h0.9v0.9h-0.9zM345.1 104.6h0.9v0.9h-0.9zM328.3 108.5h0.9v0.9h-0.9zM331.9 105.4h0.9v0.9h-0.9zM335.9 103.9h0.9v0.9h-0.9zM338.2 102.9h0.9v0.9h-0.9zM323.0 98.6h0.9v0.9h-0.9zM327.1 102.7h0.9v0.9h-0.9zM335.8 105.0h0.9v0.9h-0.9zM339.8 105.1h0.9v0.9h-0.9zM330.4 102.8h0.9v0.9h-0.9z" fill="#8a8a8a"/>
<path d="M340.9 104.5h0.9v0.9h-0.9zM346.7 105.8h0.9v0.9h-0.9zM345.3 104.5h0.9v0.9h-0.9zM347.7 104.8h0.9v0.9h-0.9zM347.2 105.9h0.9v0.9h-0.9zM346.1 107.3h0.9v0.9h-0.9zM344.3 104.1h0.9v0.9h-0.9zM343.8 103.3h0.9v0.9h-0.9zM349.0 108.1h0.9v0.9h-0.9zM345.7 105.9h0.9v0.9h-0.9zM348.2 106.3h0.9v0.9h-0.9zM348.3 102.4h0.9v0.9h-0.9zM344.2 105.7h0.9v0.9h-0.9zM348.8 105.0h0.9v0.9h-0.9zM343.7 104.1h0.9v0.9h-0.9zM344.1 103.2h0.9v0.9h-0.9zM348.9 103.6h0.9v0.9h-0.9zM345.6 108.9h0.9v0.9h-0.9zM348.2 105.4h0.9v0.9h-0.9zM344.3 105.6h0.9v0.9h-0.9zM349.2 106.0h0.9v0.9h-0.9zM348.4 105.0h0.9v0.9h-0.9zM346.7 104.4h0.9v0.9h-0.9zM346.5 107.3h0.9v0.9h-0.9zM342.5 104.7h0.9v0.9h-0.9zM346.1 103.7h0.9v0.9h-0.9zM344.9 106.3h0.9v0.9h-0.9zM350.0 106.0h0.9v0.9h-0.9zM346.3 101.9h0.9v0.9h-0.9zM349.8 104.9h0.9v0.9h-0.9zM345.5 102.7h0.9v0.9h-0.9zM345.5 102.7h0.9v0.9h-0.9zM345.8 105.7h0.9v0.9h-0.9zM345.7 105.3h0.9v0.9h-0.9zM343.7 107.5h0.9v0.9h-0.9zM344.2 101.3h0.9v0.9h-0.9zM345.2 103.3h0.9v0.9h-0.9zM343.4 104.1h0.9v0.9h-0.9zM346.2 102.6h0.9v0.9h-0.9zM345.3 107.5h0.9v0.9h-0.9zM347.1 104.5h0.9v0.9h-0.9zM345.9 104.6h0.9v0.9h-0.9zM345.5 106.2h0.9v0.9h-0.9zM345.4 100.2h0.9v0.9h-0.9zM345.6 103.1h0.9v0.9h-0.9zM344.2 102.2h0.9v0.9h-0.9zM344.7 103.3h0.9v0.9h-0.9zM339.1 102.1h0.9v0.9h-0.9zM346.2 101.2h0.9v0.9h-0.9zM335.8 103.4h0.9v0.9h-0.9zM343.7 101.3h0.9v0.9h-0.9zM335.2 102.4h0.9v0.9h-0.9zM332.5 101.3h0.9v0.9h-0.9zM330.6 102.3h0.9v0.9h-0.9zM344.8 102.3h0.9v0.9h-0.9zM329.2 103.1h0.9v0.9h-0.9zM345.2 102.7h0.9v0.9h-0.9zM333.3 102.8h0.9v0.9h-0.9zM327.1 102.8h0.9v0.9h-0.9zM340.4 101.6h0.9v0.9h-0.9zM341.3 101.4h0.9v0.9h-0.9zM327.6 101.8h0.9v0.9h-0.9zM342.9 102.1h0.9v0.9h-0.9zM342.9 102.9h0.9v0.9h-0.9zM343.9 102.4h0.9v0.9h-0.9zM344.9 103.0h0.9v0.9h-0.9zM330.5 102.4h0.9v0.9h-0.9zM328.6 104.5h0.9v0.9h-0.9zM342.8 103.0h0.9v0.9h-0.9zM339.2 103.2h0.9v0.9h-0.9zM332.1 101.3h0.9v0.9h-0.9zM328.3 104.0h0.9v0.9h-0.9zM330.5 103.6h0.9v0.9h-0.9zM332.8 102.4h0.9v0.9h-0.9zM331.5 102.7h0.9v0.9h-0.9zM332.0 102.4h0.9v0.9h-0.9zM332.8 101.7h0.9v0.9h-0.9zM345.9 100.6h0.9v0.9h-0.9zM338.9 102.6h0.9v0.9h-0.9zM326.9 101.7h0.9v0.9h-0.9zM342.0 103.2h0.9v0.9h-0.9zM333.3 102.3h0.9v0.9h-0.9zM330.7 101.4h0.9v0.9h-0.9zM343.8 104.2h0.9v0.9h-0.9zM329.8 103.6h0.9v0.9h-0.9z" fill="#4a4a4a"/>
<rect x="323.9" y="103.25" width="22.1" height="5.25" rx="5.5" ry="2.65" fill="#050505"/>
<ellipse cx="334.5" cy="106.40" rx="12.5" ry="1.3" fill="#151515"/>
<ellipse cx="334" cy="105.3" rx="9.5" ry="3.2" fill="#050505"/>
<path d="M86.4 76.8h0.9v0.9h-0.9zM93.9 96.4h0.9v0.9h-0.9zM85.6 76.6h0.9v0.9h-0.9zM81.7 78.5h0.9v0.9h-0.9zM96.0 93.7h0.9v0.9h-0.9zM84.0 64.5h0.9v0.9h-0.9zM84.2 68.1h0.9v0.9h-0.9zM83.5 87.7h0.9v0.9h-0.9zM80.3 65.8h0.9v0.9h-0.9zM90.7 91.1h0.9v0.9h-0.9zM91.2 93.4h0.9v0.9h-0.9zM88.1 96.5h0.9v0.9h-0.9zM86.5 67.3h0.9v0.9h-0.9zM79.7 90.8h0.9v0.9h-0.9zM84.3 80.7h0.9v0.9h-0.9zM88.0 76.7h0.9v0.9h-0.9zM85.4 83.0h0.9v0.9h-0.9zM83.4 86.5h0.9v0.9h-0.9zM79.3 71.7h0.9v0.9h-0.9zM85.9 73.1h0.9v0.9h-0.9zM86.6 75.9h0.9v0.9h-0.9zM83.7 67.0h0.9v0.9h-0.9zM88.0 68.1h0.9v0.9h-0.9zM90.6 99.5h0.9v0.9h-0.9zM86.3 69.0h0.9v0.9h-0.9zM90.0 68.7h0.9v0.9h-0.9zM83.4 87.9h0.9v0.9h-0.9zM85.7 70.7h0.9v0.9h-0.9zM87.7 63.1h0.9v0.9h-0.9zM89.2 84.5h0.9v0.9h-0.9zM83.6 87.1h0.9v0.9h-0.9zM85.4 68.9h0.9v0.9h-0.9zM78.9 62.8h0.9v0.9h-0.9zM82.9 70.5h0.9v0.9h-0.9zM96.2 100.1h0.9v0.9h-0.9zM88.7 88.0h0.9v0.9h-0.9zM81.3 79.8h0.9v0.9h-0.9zM88.5 91.6h0.9v0.9h-0.9zM87.6 87.7h0.9v0.9h-0.9zM82.3 71.8h0.9v0.9h-0.9zM81.1 95.3h0.9v0.9h-0.9zM87.3 65.1h0.9v0.9h-0.9zM81.0 60.2h0.9v0.9h-0.9zM86.1 76.0h0.9v0.9h-0.9zM89.4 74.5h0.9v0.9h-0.9zM84.0 85.5h0.9v0.9h-0.9zM80.5 92.7h0.9v0.9h-0.9zM85.1 82.3h0.9v0.9h-0.9zM89.6 95.1h0.9v0.9h-0.9zM90.6 75.1h0.9v0.9h-0.9zM86.3 93.6h0.9v0.9h-0.9zM85.8 74.2h0.9v0.9h-0.9zM85.2 68.2h0.9v0.9h-0.9zM82.5 70.7h0.9v0.9h-0.9zM96.4 96.9h0.9v0.9h-0.9zM85.9 65.2h0.9v0.9h-0.9zM88.3 75.2h0.9v0.9h-0.9zM83.4 97.3h0.9v0.9h-0.9zM82.6 73.6h0.9v0.9h-0.9zM84.8 92.5h0.9v0.9h-0.9zM83.0 97.1h0.9v0.9h-0.9zM85.5 71.6h0.9v0.9h-0.9zM83.0 93.5h0.9v0.9h-0.9zM84.9 74.2h0.9v0.9h-0.9zM89.5 69.6h0.9v0.9h-0.9zM85.1 73.3h0.9v0.9h-0.9zM81.0 88.5h0.9v0.9h-0.9zM86.7 77.5h0.9v0.9h-0.9zM82.6 74.1h0.9v0.9h-0.9zM78.8 75.5h0.9v0.9h-0.9z" fill="#9a9a9a"/>
<path d="M164.7 90.1h0.9v0.9h-0.9zM164.6 98.5h0.9v0.9h-0.9zM164.3 71.0h0.9v0.9h-0.9zM163.3 65.4h0.9v0.9h-0.9zM167.8 65.0h0.9v0.9h-0.9zM166.4 65.6h0.9v0.9h-0.9zM158.9 91.7h0.9v0.9h-0.9zM155.1 92.6h0.9v0.9h-0.9zM156.4 83.0h0.9v0.9h-0.9zM163.6 97.2h0.9v0.9h-0.9zM163.0 72.0h0.9v0.9h-0.9zM167.8 75.6h0.9v0.9h-0.9zM165.0 84.5h0.9v0.9h-0.9zM163.6 93.0h0.9v0.9h-0.9zM162.9 86.1h0.9v0.9h-0.9zM165.5 82.5h0.9v0.9h-0.9zM160.8 91.0h0.9v0.9h-0.9zM162.6 87.2h0.9v0.9h-0.9zM162.5 95.3h0.9v0.9h-0.9zM166.8 68.9h0.9v0.9h-0.9zM164.2 90.0h0.9v0.9h-0.9zM162.6 80.5h0.9v0.9h-0.9zM161.1 96.8h0.9v0.9h-0.9zM166.9 77.3h0.9v0.9h-0.9zM159.0 72.2h0.9v0.9h-0.9zM162.6 95.2h0.9v0.9h-0.9zM171.0 78.8h0.9v0.9h-0.9zM169.4 91.8h0.9v0.9h-0.9zM162.0 67.9h0.9v0.9h-0.9zM166.6 87.9h0.9v0.9h-0.9zM169.9 94.1h0.9v0.9h-0.9zM165.0 73.2h0.9v0.9h-0.9zM165.0 69.6h0.9v0.9h-0.9zM159.0 100.3h0.9v0.9h-0.9zM160.2 98.0h0.9v0.9h-0.9zM158.7 86.9h0.9v0.9h-0.9zM158.6 77.3h0.9v0.9h-0.9zM156.3 74.5h0.9v0.9h-0.9zM164.3 77.1h0.9v0.9h-0.9zM167.5 98.5h0.9v0.9h-0.9zM165.4 62.4h0.9v0.9h-0.9zM163.1 82.5h0.9v0.9h-0.9zM165.7 63.7h0.9v0.9h-0.9zM168.6 90.7h0.9v0.9h-0.9zM165.4 92.3h0.9v0.9h-0.9zM163.8 95.0h0.9v0.9h-0.9zM166.2 69.9h0.9v0.9h-0.9zM174.3 83.9h0.9v0.9h-0.9zM159.2 74.7h0.9v0.9h-0.9zM165.7 70.0h0.9v0.9h-0.9zM163.3 68.6h0.9v0.9h-0.9zM162.7 91.1h0.9v0.9h-0.9zM166.0 99.4h0.9v0.9h-0.9zM163.3 69.2h0.9v0.9h-0.9zM160.6 70.6h0.9v0.9h-0.9zM156.7 99.5h0.9v0.9h-0.9zM159.1 64.4h0.9v0.9h-0.9zM166.3 96.1h0.9v0.9h-0.9zM162.0 72.3h0.9v0.9h-0.9zM159.1 62.8h0.9v0.9h-0.9zM160.7 76.2h0.9v0.9h-0.9zM165.3 65.5h0.9v0.9h-0.9zM159.8 73.9h0.9v0.9h-0.9zM162.0 67.2h0.9v0.9h-0.9zM159.3 87.7h0.9v0.9h-0.9zM166.5 63.5h0.9v0.9h-0.9zM171.7 100.2h0.9v0.9h-0.9zM162.9 96.3h0.9v0.9h-0.9zM164.8 92.7h0.9v0.9h-0.9zM155.4 61.9h0.9v0.9h-0.9zM161.5 95.6h0.9v0.9h-0.9zM162.5 94.9h0.9v0.9h-0.9zM156.0 92.2h0.9v0.9h-0.9zM158.5 73.0h0.9v0.9h-0.9zM162.8 62.4h0.9v0.9h-0.9zM160.1 90.5h0.9v0.9h-0.9zM169.5 97.4h0.9v0.9h-0.9zM156.5 74.3h0.9v0.9h-0.9zM157.1 94.8h0.9v0.9h-0.9zM166.5 72.4h0.9v0.9h-0.9zM165.5 95.3h0.9v0.9h-0.9zM168.2 64.2h0.9v0.9h-0.9zM159.3 77.2h0.9v0.9h-0.9zM162.8 61.5h0.9v0.9h-0.9zM169.9 91.3h0.9v0.9h-0.9zM166.0 61.1h0.9v0.9h-0.9zM159.7 96.8h0.9v0.9h-0.9zM161.0 76.8h0.9v0.9h-0.9zM161.6 68.2h0.9v0.9h-0.9zM159.5 82.1h0.9v0.9h-0.9zM164.1 96.9h0.9v0.9h-0.9zM163.6 74.5h0.9v0.9h-0.9zM167.0 75.9h0.9v0.9h-0.9zM160.4 72.5h0.9v0.9h-0.9zM166.2 78.5h0.9v0.9h-0.9zM162.8 86.2h0.9v0.9h-0.9zM163.5 64.8h0.9v0.9h-0.9zM166.4 102.5h0.9v0.9h-0.9zM156.6 72.4h0.9v0.9h-0.9zM163.3 70.8h0.9v0.9h-0.9zM164.0 93.8h0.9v0.9h-0.9zM172.1 73.6h0.9v0.9h-0.9zM160.3 81.9h0.9v0.9h-0.9zM165.3 68.6h0.9v0.9h-0.9zM156.6 88.7h0.9v0.9h-0.9zM156.2 67.0h0.9v0.9h-0.9zM166.3 102.9h0.9v0.9h-0.9zM165.3 70.3h0.9v0.9h-0.9zM168.8 63.9h0.9v0.9h-0.9zM174.5 99.2h0.9v0.9h-0.9zM165.5 96.6h0.9v0.9h-0.9zM166.3 75.5h0.9v0.9h-0.9zM163.2 97.7h0.9v0.9h-0.9zM160.1 74.6h0.9v0.9h-0.9zM162.7 71.8h0.9v0.9h-0.9zM164.8 75.6h0.9v0.9h-0.9zM166.0 72.3h0.9v0.9h-0.9zM163.7 95.2h0.9v0.9h-0.9zM163.7 77.8h0.9v0.9h-0.9zM160.8 91.8h0.9v0.9h-0.9zM169.2 75.4h0.9v0.9h-0.9zM161.1 94.4h0.9v0.9h-0.9zM160.9 96.2h0.9v0.9h-0.9zM165.2 73.4h0.9v0.9h-0.9zM165.7 85.8h0.9v0.9h-0.9zM164.6 66.9h0.9v0.9h-0.9zM164.3 72.5h0.9v0.9h-0.9zM163.6 96.4h0.9v0.9h-0.9zM164.6 71.3h0.9v0.9h-0.9zM163.8 90.7h0.9v0.9h-0.9zM163.4 96.2h0.9v0.9h-0.9zM160.8 69.4h0.9v0.9h-0.9zM165.1 85.4h0.9v0.9h-0.9zM164.2 91.3h0.9v0.9h-0.9zM163.7 68.6h0.9v0.9h-0.9zM160.1 72.4h0.9v0.9h-0.9zM180.0 94.4h0.9v0.9h-0.9zM169.2 69.6h0.9v0.9h-0.9zM165.1 94.8h0.9v0.9h-0.9zM166.1 67.3h0.9v0.9h-0.9zM162.0 70.4h0.9v0.9h-0.9zM157.5 71.2h0.9v0.9h-0.9zM164.2 84.4h0.9v0.9h-0.9zM164.1 75.5h0.9v0.9h-0.9zM165.4 77.1h0.9v0.9h-0.9zM158.6 69.0h0.9v0.9h-0.9zM159.0 73.4h0.9v0.9h-0.9zM159.9 101.2h0.9v0.9h-0.9zM170.3 72.4h0.9v0.9h-0.9zM154.3 93.5h0.9v0.9h-0.9zM163.8 71.6h0.9v0.9h-0.9zM160.0 65.3h0.9v0.9h-0.9zM166.1 64.6h0.9v0.9h-0.9zM162.7 75.0h0.9v0.9h-0.9zM166.8 80.0h0.9v0.9h-0.9zM155.5 81.5h0.9v0.9h-0.9zM171.3 95.9h0.9v0.9h-0.9zM166.5 84.8h0.9v0.9h-0.9zM162.5 96.2h0.9v0.9h-0.9zM162.6 70.4h0.9v0.9h-0.9zM164.2 70.0h0.9v0.9h-0.9zM162.0 68.6h0.9v0.9h-0.9zM160.7 64.7h0.9v0.9h-0.9zM160.0 89.6h0.9v0.9h-0.9zM166.5 64.3h0.9v0.9h-0.9zM165.6 73.2h0.9v0.9h-0.9zM162.9 82.1h0.9v0.9h-0.9zM164.5 62.0h0.9v0.9h-0.9zM159.1 62.8h0.9v0.9h-0.9zM160.3 74.4h0.9v0.9h-0.9z" fill="#8a8a8a"/>
<path d="M247.5 61.9h0.9v0.9h-0.9zM257.4 81.9h0.9v0.9h-0.9zM256.9 93.1h0.9v0.9h-0.9zM251.0 63.2h0.9v0.9h-0.9zM262.2 100.6h0.9v0.9h-0.9zM262.4 102.5h0.9v0.9h-0.9zM258.3 93.2h0.9v0.9h-0.9zM251.7 66.3h0.9v0.9h-0.9zM257.6 84.6h0.9v0.9h-0.9zM254.9 77.1h0.9v0.9h-0.9zM261.5 95.4h0.9v0.9h-0.9zM256.8 94.1h0.9v0.9h-0.9zM248.0 67.3h0.9v0.9h-0.9zM251.9 78.8h0.9v0.9h-0.9zM258.6 78.3h0.9v0.9h-0.9zM251.8 82.8h0.9v0.9h-0.9zM255.0 98.4h0.9v0.9h-0.9zM256.0 60.2h0.9v0.9h-0.9zM249.0 78.7h0.9v0.9h-0.9zM252.1 75.1h0.9v0.9h-0.9zM253.3 68.3h0.9v0.9h-0.9zM256.5 69.6h0.9v0.9h-0.9zM255.7 93.0h0.9v0.9h-0.9zM249.3 77.0h0.9v0.9h-0.9zM251.9 83.5h0.9v0.9h-0.9zM251.0 79.8h0.9v0.9h-0.9zM251.5 70.5h0.9v0.9h-0.9zM257.0 68.9h0.9v0.9h-0.9zM253.4 71.6h0.9v0.9h-0.9zM252.1 84.3h0.9v0.9h-0.9zM256.0 69.2h0.9v0.9h-0.9zM254.8 93.8h0.9v0.9h-0.9zM254.5 73.6h0.9v0.9h-0.9zM254.7 69.3h0.9v0.9h-0.9zM252.2 76.6h0.9v0.9h-0.9zM252.4 67.3h0.9v0.9h-0.9zM257.0 87.4h0.9v0.9h-0.9zM259.0 99.6h0.9v0.9h-0.9zM250.2 91.0h0.9v0.9h-0.9zM255.3 94.9h0.9v0.9h-0.9zM249.2 69.8h0.9v0.9h-0.9zM253.9 86.6h0.9v0.9h-0.9zM258.7 82.4h0.9v0.9h-0.9zM253.0 93.8h0.9v0.9h-0.9zM251.2 83.4h0.9v0.9h-0.9zM256.8 79.3h0.9v0.9h-0.9zM250.9 68.0h0.9v0.9h-0.9zM254.9 61.0h0.9v0.9h-0.9zM251.9 79.6h0.9v0.9h-0.9zM254.2 64.2h0.9v0.9h-0.9zM251.9 73.0h0.9v0.9h-0.9zM253.8 100.9h0.9v0.9h-0.9zM257.7 101.8h0.9v0.9h-0.9zM256.5 75.0h0.9v0.9h-0.9zM255.5 95.0h0.9v0.9h-0.9zM241.5 84.9h0.9v0.9h-0.9zM251.0 89.1h0.9v0.9h-0.9zM251.2 74.2h0.9v0.9h-0.9zM257.7 67.3h0.9v0.9h-0.9zM257.0 82.0h0.9v0.9h-0.9zM256.1 86.4h0.9v0.9h-0.9zM262.3 95.7h0.9v0.9h-0.9zM253.2 96.9h0.9v0.9h-0.9zM248.4 67.9h0.9v0.9h-0.9zM250.3 80.8h0.9v0.9h-0.9zM253.4 101.6h0.9v0.9h-0.9zM254.0 92.5h0.9v0.9h-0.9zM260.5 92.0h0.9v0.9h-0.9zM251.6 64.2h0.9v0.9h-0.9zM253.3 72.1h0.9v0.9h-0.9zM258.8 80.8h0.9v0.9h-0.9zM255.0 95.3h0.9v0.9h-0.9zM253.3 79.7h0.9v0.9h-0.9zM257.2 93.1h0.9v0.9h-0.9zM254.2 88.7h0.9v0.9h-0.9zM249.9 69.6h0.9v0.9h-0.9zM251.4 65.1h0.9v0.9h-0.9zM251.0 91.6h0.9v0.9h-0.9zM252.3 69.6h0.9v0.9h-0.9zM252.2 72.1h0.9v0.9h-0.9zM262.0 98.0h0.9v0.9h-0.9zM256.9 100.0h0.9v0.9h-0.9zM253.8 68.6h0.9v0.9h-0.9zM251.0 69.3h0.9v0.9h-0.9zM258.6 97.6h0.9v0.9h-0.9zM250.9 70.9h0.9v0.9h-0.9zM256.6 65.7h0.9v0.9h-0.9zM249.0 93.2h0.9v0.9h-0.9zM255.1 77.5h0.9v0.9h-0.9zM251.2 76.2h0.9v0.9h-0.9zM250.4 60.4h0.9v0.9h-0.9zM248.6 95.7h0.9v0.9h-0.9zM250.0 74.1h0.9v0.9h-0.9zM251.5 78.1h0.9v0.9h-0.9zM254.8 76.3h0.9v0.9h-0.9zM251.5 74.2h0.9v0.9h-0.9zM260.7 67.4h0.9v0.9h-0.9zM253.4 81.6h0.9v0.9h-0.9zM255.0 70.4h0.9v0.9h-0.9zM253.7 92.5h0.9v0.9h-0.9zM255.3 69.6h0.9v0.9h-0.9zM255.1 80.5h0.9v0.9h-0.9zM253.2 67.6h0.9v0.9h-0.9zM254.4 67.5h0.9v0.9h-0.9zM256.3 62.5h0.9v0.9h-0.9zM250.8 75.3h0.9v0.9h-0.9zM255.5 68.7h0.9v0.9h-0.9zM252.2 95.9h0.9v0.9h-0.9zM253.5 68.6h0.9v0.9h-0.9zM252.0 97.6h0.9v0.9h-0.9zM253.7 75.7h0.9v0.9h-0.9zM254.6 67.8h0.9v0.9h-0.9zM251.3 91.3h0.9v0.9h-0.9zM253.0 66.3h0.9v0.9h-0.9zM250.5 68.0h0.9v0.9h-0.9zM254.4 71.8h0.9v0.9h-0.9zM251.5 74.7h0.9v0.9h-0.9zM251.3 79.4h0.9v0.9h-0.9zM256.2 68.3h0.9v0.9h-0.9zM255.5 68.7h0.9v0.9h-0.9zM251.3 76.0h0.9v0.9h-0.9zM251.0 101.2h0.9v0.9h-0.9zM253.5 70.6h0.9v0.9h-0.9zM252.4 82.3h0.9v0.9h-0.9zM251.2 89.5h0.9v0.9h-0.9zM255.1 66.1h0.9v0.9h-0.9zM254.8 94.8h0.9v0.9h-0.9zM255.7 89.8h0.9v0.9h-0.9zM255.3 70.2h0.9v0.9h-0.9zM252.7 73.7h0.9v0.9h-0.9z" fill="#8a8a8a"/>
<path d="M329.8 75.5h0.9v0.9h-0.9zM333.9 64.6h0.9v0.9h-0.9zM332.0 89.1h0.9v0.9h-0.9zM335.1 78.0h0.9v0.9h-0.9zM332.1 79.2h0.9v0.9h-0.9zM334.3 64.6h0.9v0.9h-0.9zM331.7 71.7h0.9v0.9h-0.9zM334.4 90.7h0.9v0.9h-0.9zM338.7 68.0h0.9v0.9h-0.9zM328.2 92.7h0.9v0.9h-0.9zM338.3 75.3h0.9v0.9h-0.9zM336.2 66.6h0.9v0.9h-0.9zM334.9 83.3h0.9v0.9h-0.9zM327.5 68.0h0.9v0.9h-0.9zM328.0 95.2h0.9v0.9h-0.9zM331.7 68.2h0.9v0.9h-0.9zM333.2 85.7h0.9v0.9h-0.9zM330.1 98.3h0.9v0.9h-0.9zM332.1 80.9h0.9v0.9h-0.9zM332.8 70.7h0.9v0.9h-0.9zM334.3 67.7h0.9v0.9h-0.9zM326.9 69.8h0.9v0.9h-0.9zM335.6 73.4h0.9v0.9h-0.9zM330.4 71.4h0.9v0.9h-0.9zM330.6 80.3h0.9v0.9h-0.9zM325.2 92.2h0.9v0.9h-0.9zM330.0 87.0h0.9v0.9h-0.9zM332.9 74.9h0.9v0.9h-0.9zM325.4 67.5h0.9v0.9h-0.9zM333.3 68.9h0.9v0.9h-0.9zM334.8 83.2h0.9v0.9h-0.9zM329.9 74.0h0.9v0.9h-0.9zM332.2 71.0h0.9v0.9h-0.9zM337.1 69.1h0.9v0.9h-0.9zM329.7 62.3h0.9v0.9h-0.9zM328.1 69.8h0.9v0.9h-0.9zM331.2 69.3h0.9v0.9h-0.9zM329.3 102.2h0.9v0.9h-0.9zM327.5 78.3h0.9v0.9h-0.9zM332.1 70.3h0.9v0.9h-0.9zM333.9 76.6h0.9v0.9h-0.9zM329.2 93.1h0.9v0.9h-0.9zM338.8 100.8h0.9v0.9h-0.9zM338.4 80.2h0.9v0.9h-0.9zM332.9 66.0h0.9v0.9h-0.9zM328.6 68.1h0.9v0.9h-0.9zM334.2 97.4h0.9v0.9h-0.9zM333.3 92.5h0.9v0.9h-0.9zM340.3 84.4h0.9v0.9h-0.9zM326.5 75.9h0.9v0.9h-0.9zM330.4 68.6h0.9v0.9h-0.9zM334.4 96.2h0.9v0.9h-0.9zM334.7 74.2h0.9v0.9h-0.9zM332.5 69.4h0.9v0.9h-0.9zM333.7 101.1h0.9v0.9h-0.9zM329.1 88.5h0.9v0.9h-0.9zM333.6 82.5h0.9v0.9h-0.9zM327.1 72.0h0.9v0.9h-0.9zM336.8 93.8h0.9v0.9h-0.9zM330.5 65.7h0.9v0.9h-0.9zM330.4 72.9h0.9v0.9h-0.9zM334.0 96.3h0.9v0.9h-0.9zM344.0 102.5h0.9v0.9h-0.9zM323.7 92.3h0.9v0.9h-0.9zM329.6 64.0h0.9v0.9h-0.9zM324.2 64.7h0.9v0.9h-0.9zM330.0 80.6h0.9v0.9h-0.9zM330.4 90.4h0.9v0.9h-0.9zM330.0 65.1h0.9v0.9h-0.9zM329.9 65.8h0.9v0.9h-0.9zM327.7 86.1h0.9v0.9h-0.9zM333.6 71.6h0.9v0.9h-0.9zM336.4 97.1h0.9v0.9h-0.9zM333.2 66.9h0.9v0.9h-0.9zM329.1 68.8h0.9v0.9h-0.9zM329.3 86.3h0.9v0.9h-0.9zM330.8 63.5h0.9v0.9h-0.9zM331.2 68.0h0.9v0.9h-0.9zM332.3 73.2h0.9v0.9h-0.9zM328.2 90.9h0.9v0.9h-0.9zM336.9 69.1h0.9v0.9h-0.9zM333.2 65.6h0.9v0.9h-0.9zM335.7 68.1h0.9v0.9h-0.9zM336.8 73.4h0.9v0.9h-0.9zM335.9 69.0h0.9v0.9h-0.9zM332.6 77.3h0.9v0.9h-0.9zM330.7 64.9h0.9v0.9h-0.9zM326.0 97.3h0.9v0.9h-0.9zM326.4 101.3h0.9v0.9h-0.9zM331.5 65.4h0.9v0.9h-0.9zM328.8 75.1h0.9v0.9h-0.9zM326.0 68.6h0.9v0.9h-0.9zM322.1 73.1h0.9v0.9h-0.9zM336.3 92.1h0.9v0.9h-0.9zM334.0 75.5h0.9v0.9h-0.9zM329.4 71.2h0.9v0.9h-0.9zM339.7 97.6h0.9v0.9h-0.9zM333.2 69.8h0.9v0.9h-0.9zM336.9 93.8h0.9v0.9h-0.9zM336.9 81.5h0.9v0.9h-0.9zM334.5 65.6h0.9v0.9h-0.9zM335.7 72.3h0.9v0.9h-0.9zM324.1 72.6h0.9v0.9h-0.9zM339.4 100.4h0.9v0.9h-0.9zM334.1 77.1h0.9v0.9h-0.9zM328.4 76.0h0.9v0.9h-0.9zM338.0 95.1h0.9v0.9h-0.9zM332.4 94.3h0.9v0.9h-0.9zM330.8 74.2h0.9v0.9h-0.9zM328.9 71.6h0.9v0.9h-0.9zM335.5 86.4h0.9v0.9h-0.9zM331.4 69.9h0.9v0.9h-0.9zM331.7 83.5h0.9v0.9h-0.9zM335.1 90.6h0.9v0.9h-0.9zM330.3 66.3h0.9v0.9h-0.9zM329.0 69.5h0.9v0.9h-0.9zM321.9 96.8h0.9v0.9h-0.9zM330.1 62.3h0.9v0.9h-0.9zM330.6 100.1h0.9v0.9h-0.9zM329.5 79.0h0.9v0.9h-0.9zM329.2 93.8h0.9v0.9h-0.9zM332.1 99.9h0.9v0.9h-0.9zM328.9 84.7h0.9v0.9h-0.9zM329.0 82.1h0.9v0.9h-0.9zM335.0 67.4h0.9v0.9h-0.9zM338.2 96.3h0.9v0.9h-0.9zM331.7 72.8h0.9v0.9h-0.9zM331.9 69.9h0.9v0.9h-0.9zM328.4 97.4h0.9v0.9h-0.9zM332.6 70.3h0.9v0.9h-0.9zM332.7 66.9h0.9v0.9h-0.9zM338.3 95.4h0.9v0.9h-0.9zM335.4 66.7h0.9v0.9h-0.9zM333.5 74.8h0.9v0.9h-0.9zM328.2 95.6h0.9v0.9h-0.9zM341.5 90.9h0.9v0.9h-0.9zM334.8 78.4h0.9v0.9h-0.9zM330.0 71.3h0.9v0.9h-0.9zM334.9 77.5h0.9v0.9h-0.9zM333.0 75.3h0.9v0.9h-0.9zM331.9 99.5h0.9v0.9h-0.9zM331.2 97.8h0.9v0.9h-0.9zM334.1 60.9h0.9v0.9h-0.9zM333.0 71.7h0.9v0.9h-0.9zM336.3 95.1h0.9v0.9h-0.9zM328.3 66.0h0.9v0.9h-0.9zM338.2 82.1h0.9v0.9h-0.9zM331.4 82.4h0.9v0.9h-0.9zM332.6 66.7h0.9v0.9h-0.9zM329.4 86.9h0.9v0.9h-0.9zM331.1 69.7h0.9v0.9h-0.9zM319.1 90.7h0.9v0.9h-0.9zM327.3 90.1h0.9v0.9h-0.9zM333.2 71.0h0.9v0.9h-0.9zM331.8 67.6h0.9v0.9h-0.9zM328.0 97.7h0.9v0.9h-0.9zM334.5 88.4h0.9v0.9h-0.9zM328.8 78.4h0.9v0.9h-0.9zM338.0 91.1h0.9v0.9h-0.9zM329.5 96.4h0.9v0.9h-0.9zM338.7 79.0h0.9v0.9h-0.9zM334.1 72.2h0.9v0.9h-0.9zM331.3 88.4h0.9v0.9h-0.9zM324.0 77.7h0.9v0.9h-0.9zM341.6 74.2h0.9v0.9h-0.9zM332.4 70.7h0.9v0.9h-0.9zM329.6 95.5h0.9v0.9h-0.9zM330.9 71.2h0.9v0.9h-0.9zM334.2 95.0h0.9v0.9h-0.9zM337.2 70.9h0.9v0.9h-0.9zM335.5 68.9h0.9v0.9h-0.9zM328.0 83.5h0.9v0.9h-0.9zM336.5 71.3h0.9v0.9h-0.9zM331.0 73.6h0.9v0.9h-0.9zM325.4 73.5h0.9v0.9h-0.9zM336.9 82.2h0.9v0.9h-0.9zM341.4 92.9h0.9v0.9h-0.9zM330.0 69.1h0.9v0.9h-0.9zM335.1 71.7h0.9v0.9h-0.9zM338.8 79.5h0.9v0.9h-0.9zM335.6 92.0h0.9v0.9h-0.9zM341.1 101.3h0.9v0.9h-0.9zM331.7 61.1h0.9v0.9h-0.9zM329.7 74.0h0.9v0.9h-0.9zM338.5 97.8h0.9v0.9h-0.9zM337.4 86.5h0.9v0.9h-0.9zM336.9 94.7h0.9v0.9h-0.9zM340.4 93.6h0.9v0.9h-0.9zM338.6 61.2h0.9v0.9h-0.9zM338.4 77.4h0.9v0.9h-0.9zM333.2 68.1h0.9v0.9h-0.9zM334.2 89.1h0.9v0.9h-0.9zM332.8 64.1h0.9v0.9h-0.9zM339.9 94.0h0.9v0.9h-0.9zM338.0 100.3h0.9v0.9h-0.9zM332.7 72.9h0.9v0.9h-0.9zM332.6 74.6h0.9v0.9h-0.9zM335.1 73.4h0.9v0.9h-0.9zM333.8 91.6h0.9v0.9h-0.9zM335.0 76.5h0.9v0.9h-0.9zM335.4 75.7h0.9v0.9h-0.9zM330.1 80.8h0.9v0.9h-0.9zM332.1 95.0h0.9v0.9h-0.9zM333.5 81.0h0.9v0.9h-0.9zM333.6 92.3h0.9v0.9h-0.9zM329.0 70.7h0.9v0.9h-0.9zM332.6 82.2h0.9v0.9h-0.9zM331.7 89.2h0.9v0.9h-0.9zM332.6 85.6h0.9v0.9h-0.9zM327.8 93.9h0.9v0.9h-0.9zM321.2 82.0h0.9v0.9h-0.9zM323.9 75.4h0.9v0.9h-0.9zM329.1 72.5h0.9v0.9h-0.9zM331.9 69.5h0.9v0.9h-0.9zM334.9 87.3h0.9v0.9h-0.9zM330.5 69.7h0.9v0.9h-0.9zM333.8 73.8h0.9v0.9h-0.9zM326.1 90.6h0.9v0.9h-0.9zM329.4 85.7h0.9v0.9h-0.9zM335.8 69.7h0.9v0.9h-0.9zM332.1 93.3h0.9v0.9h-0.9zM320.9 77.9h0.9v0.9h-0.9zM324.8 90.6h0.9v0.9h-0.9zM330.8 65.1h0.9v0.9h-0.9zM327.4 80.1h0.9v0.9h-0.9zM328.1 85.6h0.9v0.9h-0.9zM329.6 67.2h0.9v0.9h-0.9zM325.4 96.8h0.9v0.9h-0.9zM333.2 77.5h0.9v0.9h-0.9zM335.2 67.1h0.9v0.9h-0.9zM324.7 78.0h0.9v0.9h-0.9zM330.6 71.7h0.9v0.9h-0.9zM328.0 92.7h0.9v0.9h-0.9zM335.2 95.0h0.9v0.9h-0.9zM332.9 100.6h0.9v0.9h-0.9zM333.0 72.3h0.9v0.9h-0.9zM327.9 75.9h0.9v0.9h-0.9zM330.4 81.9h0.9v0.9h-0.9zM334.8 99.0h0.9v0.9h-0.9zM325.7 70.6h0.9v0.9h-0.9z" fill="#7a7a7a"/>
<path d="M117.0 71.5h0.9v0.9h-0.9zM104.0 103.0h0.9v0.9h-0.9zM108.5 102.8h0.9v0.9h-0.9zM112.0 104.0h0.9v0.9h-0.9z" fill="#aaa"/>
<path d="M185.1 70.7h0.9v0.9h-0.9zM183.6 69.5h0.9v0.9h-0.9zM182.4 72.6h0.9v0.9h-0.9zM182.8 75.6h0.9v0.9h-0.9zM184.5 73.5h0.9v0.9h-0.9zM186.4 78.0h0.9v0.9h-0.9zM187.1 73.9h0.9v0.9h-0.9zM184.4 69.9h0.9v0.9h-0.9zM183.8 75.7h0.9v0.9h-0.9zM185.8 71.5h0.9v0.9h-0.9zM180.5 67.0h0.9v0.9h-0.9zM186.1 77.0h0.9v0.9h-0.9zM186.3 67.6h0.9v0.9h-0.9zM184.3 73.9h0.9v0.9h-0.9zM181.9 74.4h0.9v0.9h-0.9zM184.3 69.7h0.9v0.9h-0.9zM180.8 76.2h0.9v0.9h-0.9zM186.2 69.5h0.9v0.9h-0.9zM181.5 76.5h0.9v0.9h-0.9zM187.0 71.8h0.9v0.9h-0.9zM190.4 71.9h0.9v0.9h-0.9zM181.4 77.3h0.9v0.9h-0.9z" fill="#9a9a9a"/>
<path d="M181.0 103.0h0.9v0.9h-0.9zM185.0 104.5h0.9v0.9h-0.9zM192.0 102.0h0.9v0.9h-0.9zM188.0 106.0h0.9v0.9h-0.9z" fill="#aaa"/>
<path d="M282.4 84.9h0.9v0.9h-0.9zM284.0 74.0h0.9v0.9h-0.9zM279.5 89.1h0.9v0.9h-0.9zM282.4 85.0h0.9v0.9h-0.9zM287.0 76.4h0.9v0.9h-0.9zM283.6 76.4h0.9v0.9h-0.9zM284.7 76.7h0.9v0.9h-0.9zM280.4 88.8h0.9v0.9h-0.9zM279.8 77.8h0.9v0.9h-0.9zM284.3 86.9h0.9v0.9h-0.9zM280.6 74.6h0.9v0.9h-0.9zM278.7 64.2h0.9v0.9h-0.9zM281.4 85.3h0.9v0.9h-0.9zM279.6 85.3h0.9v0.9h-0.9z" fill="#a5a5a5"/>
<path d="M272.5 105.8h0.9v0.9h-0.9zM287.2 106.0h0.9v0.9h-0.9zM272.1 106.5h0.9v0.9h-0.9zM281.9 106.2h0.9v0.9h-0.9zM271.2 105.5h0.9v0.9h-0.9zM280.1 105.1h0.9v0.9h-0.9zM271.2 105.6h0.9v0.9h-0.9zM282.3 105.3h0.9v0.9h-0.9zM291.0 106.2h0.9v0.9h-0.9zM273.1 104.9h0.9v0.9h-0.9zM277.0 105.7h0.9v0.9h-0.9zM290.8 105.8h0.9v0.9h-0.9zM275.8 105.8h0.9v0.9h-0.9zM275.4 106.2h0.9v0.9h-0.9zM288.0 105.2h0.9v0.9h-0.9zM278.8 105.6h0.9v0.9h-0.9zM271.1 105.5h0.9v0.9h-0.9zM286.8 106.7h0.9v0.9h-0.9zM288.0 105.8h0.9v0.9h-0.9zM271.1 106.1h0.9v0.9h-0.9zM281.3 105.4h0.9v0.9h-0.9zM280.3 106.2h0.9v0.9h-0.9zM282.3 105.2h0.9v0.9h-0.9zM274.2 106.5h0.9v0.9h-0.9zM289.3 105.6h0.9v0.9h-0.9zM276.6 105.7h0.9v0.9h-0.9zM281.2 105.3h0.9v0.9h-0.9zM276.8 106.1h0.9v0.9h-0.9zM275.7 105.9h0.9v0.9h-0.9zM284.9 105.4h0.9v0.9h-0.9zM286.9 105.3h0.9v0.9h-0.9zM289.6 105.5h0.9v0.9h-0.9zM279.3 105.9h0.9v0.9h-0.9zM279.1 105.7h0.9v0.9h-0.9zM283.4 106.7h0.9v0.9h-0.9zM271.5 106.1h0.9v0.9h-0.9zM282.5 106.3h0.9v0.9h-0.9zM281.8 106.8h0.9v0.9h-0.9zM286.8 105.1h0.9v0.9h-0.9zM284.2 105.8h0.9v0.9h-0.9zM276.2 106.0h0.9v0.9h-0.9zM273.1 106.7h0.9v0.9h-0.9zM289.3 105.9h0.9v0.9h-0.9zM272.0 106.0h0.9v0.9h-0.9zM286.5 106.3h0.9v0.9h-0.9zM283.8 105.6h0.9v0.9h-0.9zM275.4 106.4h0.9v0.9h-0.9zM273.3 105.4h0.9v0.9h-0.9zM271.2 105.8h0.9v0.9h-0.9zM287.6 105.7h0.9v0.9h-0.9zM276.2 105.9h0.9v0.9h-0.9zM276.7 106.5h0.9v0.9h-0.9zM281.8 106.4h0.9v0.9h-0.9zM276.8 106.7h0.9v0.9h-0.9zM287.7 106.3h0.9v0.9h-0.9zM290.6 106.5h0.9v0.9h-0.9zM278.2 106.3h0.9v0.9h-0.9zM283.5 105.9h0.9v0.9h-0.9zM274.7 105.6h0.9v0.9h-0.9zM279.8 105.7h0.9v0.9h-0.9z" fill="#555"/>
<path d="M355.3 65.7h0.9v0.9h-0.9zM355.0 69.3h0.9v0.9h-0.9zM357.1 69.3h0.9v0.9h-0.9zM369.3 62.7h0.9v0.9h-0.9zM361.1 69.3h0.9v0.9h-0.9zM354.9 77.4h0.9v0.9h-0.9zM356.0 65.0h0.9v0.9h-0.9zM357.8 70.9h0.9v0.9h-0.9zM347.1 73.1h0.9v0.9h-0.9zM351.4 67.7h0.9v0.9h-0.9zM358.1 73.7h0.9v0.9h-0.9zM354.7 84.6h0.9v0.9h-0.9zM357.8 68.4h0.9v0.9h-0.9zM357.0 71.3h0.9v0.9h-0.9zM346.4 62.9h0.9v0.9h-0.9zM350.0 84.0h0.9v0.9h-0.9zM355.2 70.4h0.9v0.9h-0.9zM353.5 77.7h0.9v0.9h-0.9zM356.1 81.9h0.9v0.9h-0.9zM359.4 81.5h0.9v0.9h-0.9zM355.5 74.2h0.9v0.9h-0.9zM354.1 71.0h0.9v0.9h-0.9zM348.5 68.6h0.9v0.9h-0.9zM351.9 68.2h0.9v0.9h-0.9zM361.3 73.5h0.9v0.9h-0.9zM361.3 77.0h0.9v0.9h-0.9zM360.0 77.8h0.9v0.9h-0.9zM353.4 76.6h0.9v0.9h-0.9zM354.6 68.9h0.9v0.9h-0.9zM361.2 84.5h0.9v0.9h-0.9zM351.8 82.0h0.9v0.9h-0.9zM359.6 67.1h0.9v0.9h-0.9zM357.2 74.1h0.9v0.9h-0.9zM357.6 69.9h0.9v0.9h-0.9zM350.4 72.2h0.9v0.9h-0.9zM359.7 76.5h0.9v0.9h-0.9zM358.9 78.4h0.9v0.9h-0.9zM351.7 71.8h0.9v0.9h-0.9zM357.5 77.8h0.9v0.9h-0.9zM356.7 75.0h0.9v0.9h-0.9zM356.6 84.1h0.9v0.9h-0.9zM346.5 71.9h0.9v0.9h-0.9zM366.7 73.4h0.9v0.9h-0.9zM348.1 72.8h0.9v0.9h-0.9zM349.8 68.1h0.9v0.9h-0.9z" fill="#959595"/>
<path d="M352.7 105.3h0.9v0.9h-0.9zM353.6 105.0h0.9v0.9h-0.9zM347.8 104.7h0.9v0.9h-0.9zM354.3 105.8h0.9v0.9h-0.9zM369.3 106.0h0.9v0.9h-0.9zM352.8 105.7h0.9v0.9h-0.9zM361.9 105.5h0.9v0.9h-0.9zM348.6 104.4h0.9v0.9h-0.9zM353.1 103.9h0.9v0.9h-0.9zM348.0 104.3h0.9v0.9h-0.9zM362.5 104.9h0.9v0.9h-0.9zM355.6 104.3h0.9v0.9h-0.9zM367.3 104.0h0.9v0.9h-0.9zM347.3 105.6h0.9v0.9h-0.9zM370.5 104.8h0.9v0.9h-0.9zM349.2 105.6h0.9v0.9h-0.9zM353.1 105.2h0.9v0.9h-0.9zM350.8 104.4h0.9v0.9h-0.9zM355.6 105.6h0.9v0.9h-0.9zM352.5 105.6h0.9v0.9h-0.9zM355.3 107.3h0.9v0.9h-0.9zM366.8 105.0h0.9v0.9h-0.9zM359.0 104.3h0.9v0.9h-0.9zM369.7 105.3h0.9v0.9h-0.9zM365.8 105.0h0.9v0.9h-0.9zM362.6 105.0h0.9v0.9h-0.9zM368.1 105.4h0.9v0.9h-0.9zM364.9 105.0h0.9v0.9h-0.9zM355.7 106.1h0.9v0.9h-0.9zM363.8 106.6h0.9v0.9h-0.9zM365.6 106.0h0.9v0.9h-0.9zM370.4 106.1h0.9v0.9h-0.9zM369.6 105.3h0.9v0.9h-0.9zM367.1 104.2h0.9v0.9h-0.9zM361.8 104.3h0.9v0.9h-0.9zM366.6 105.7h0.9v0.9h-0.9zM368.8 104.8h0.9v0.9h-0.9zM360.3 106.8h0.9v0.9h-0.9zM370.6 106.5h0.9v0.9h-0.9zM366.7 106.3h0.9v0.9h-0.9zM353.3 105.5h0.9v0.9h-0.9zM352.0 104.9h0.9v0.9h-0.9zM358.4 105.4h0.9v0.9h-0.9zM369.7 106.0h0.9v0.9h-0.9zM364.1 105.2h0.9v0.9h-0.9zM366.6 104.7h0.9v0.9h-0.9zM366.8 104.7h0.9v0.9h-0.9zM367.6 104.0h0.9v0.9h-0.9zM357.2 106.0h0.9v0.9h-0.9zM367.9 105.8h0.9v0.9h-0.9zM355.5 104.4h0.9v0.9h-0.9zM366.8 104.7h0.9v0.9h-0.9zM347.1 105.2h0.9v0.9h-0.9zM349.8 105.3h0.9v0.9h-0.9zM367.3 104.6h0.9v0.9h-0.9z" fill="#666"/>
<path d="M364.3 104.6h0.9v0.9h-0.9zM362.8 105.1h0.9v0.9h-0.9zM365.2 105.4h0.9v0.9h-0.9zM358.0 104.9h0.9v0.9h-0.9zM363.4 104.9h0.9v0.9h-0.9zM367.4 104.3h0.9v0.9h-0.9zM363.8 105.1h0.9v0.9h-0.9zM360.3 104.9h0.9v0.9h-0.9zM361.1 105.1h0.9v0.9h-0.9zM360.0 104.8h0.9v0.9h-0.9zM370.7 104.8h0.9v0.9h-0.9zM363.9 105.5h0.9v0.9h-0.9zM358.9 105.4h0.9v0.9h-0.9zM359.8 103.8h0.9v0.9h-0.9zM362.0 103.5h0.9v0.9h-0.9zM361.6 105.3h0.9v0.9h-0.9zM368.1 105.3h0.9v0.9h-0.9zM365.6 105.3h0.9v0.9h-0.9zM362.0 105.5h0.9v0.9h-0.9zM360.7 105.1h0.9v0.9h-0.9zM359.5 104.9h0.9v0.9h-0.9zM363.3 104.1h0.9v0.9h-0.9zM359.7 104.5h0.9v0.9h-0.9zM361.7 106.0h0.9v0.9h-0.9zM358.8 104.9h0.9v0.9h-0.9zM360.8 104.6h0.9v0.9h-0.9zM359.3 105.5h0.9v0.9h-0.9zM361.1 104.6h0.9v0.9h-0.9zM357.8 104.6h0.9v0.9h-0.9zM365.0 104.5h0.9v0.9h-0.9zM355.2 104.5h0.9v0.9h-0.9zM362.0 105.2h0.9v0.9h-0.9zM361.8 105.4h0.9v0.9h-0.9zM357.4 104.5h0.9v0.9h-0.9zM360.7 105.0h0.9v0.9h-0.9zM354.6 104.9h0.9v0.9h-0.9zM356.2 105.4h0.9v0.9h-0.9zM362.7 105.8h0.9v0.9h-0.9zM368.6 105.2h0.9v0.9h-0.9zM360.8 104.4h0.9v0.9h-0.9zM359.6 105.5h0.9v0.9h-0.9zM363.0 105.0h0.9v0.9h-0.9zM357.0 104.8h0.9v0.9h-0.9zM367.8 104.8h0.9v0.9h-0.9zM366.2 103.8h0.9v0.9h-0.9zM366.6 104.5h0.9v0.9h-0.9zM356.9 104.8h0.9v0.9h-0.9zM358.9 105.8h0.9v0.9h-0.9zM360.7 104.9h0.9v0.9h-0.9zM359.4 105.3h0.9v0.9h-0.9zM365.9 105.4h0.9v0.9h-0.9zM356.5 104.8h0.9v0.9h-0.9zM363.6 104.0h0.9v0.9h-0.9zM361.3 105.4h0.9v0.9h-0.9zM366.9 105.2h0.9v0.9h-0.9z" fill="#444"/>
<line x1="67.8" y1="166.2" x2="159.3" y2="166.2" stroke="#333" stroke-width="1"/>
<line x1="67.8" y1="166.2" x2="67.8" y2="292.2" stroke="#333" stroke-width="1"/>
<line x1="64.8" y1="292.2" x2="159.3" y2="292.2" stroke="#333" stroke-width="1"/>
<line x1="159.3" y1="166.2" x2="159.3" y2="294.7" stroke="#333" stroke-width="1"/>
<line x1="67.8" y1="292.2" x2="67.8" y2="294.7" stroke="#333" stroke-width="1"/>
<line x1="114" y1="292.2" x2="114" y2="294.7" stroke="#333" stroke-width="1"/>
<text x="87.39999999999999" y="159.8" font-size="14.3" text-anchor="start" font-weight="normal" font-style="normal" fill="#000" stroke="#000" stroke-width="0.18">Donor 1</text>
<line x1="64.6" y1="292.2" x2="67.8" y2="292.2" stroke="#333" stroke-width="1"/>
<text x="60.4" y="295.34999999999997" font-size="8.8" text-anchor="end" font-weight="normal" font-style="normal" fill="#000" stroke="#000" stroke-width="0.18">0</text>
<line x1="64.6" y1="260.7" x2="67.8" y2="260.7" stroke="#333" stroke-width="1"/>
<text x="60.4" y="263.84999999999997" font-size="8.8" text-anchor="end" font-weight="normal" font-style="normal" fill="#000" stroke="#000" stroke-width="0.18">200</text>
<line x1="64.6" y1="229.2" x2="67.8" y2="229.2" stroke="#333" stroke-width="1"/>
<text x="60.4" y="232.35" font-size="8.8" text-anchor="end" font-weight="normal" font-style="normal" fill="#000" stroke="#000" stroke-width="0.18">400</text>
<line x1="64.6" y1="197.7" x2="67.8" y2="197.7" stroke="#333" stroke-width="1"/>
<text x="60.4" y="200.85" font-size="8.8" text-anchor="end" font-weight="normal" font-style="normal" fill="#000" stroke="#000" stroke-width="0.18">600</text>
<line x1="64.6" y1="166.2" x2="67.8" y2="166.2" stroke="#333" stroke-width="1"/>
<text x="60.4" y="169.35" font-size="8.8" text-anchor="end" font-weight="normal" font-style="normal" fill="#000" stroke="#000" stroke-width="0.18">800</text>
<rect x="73.2" y="289.1" width="17.30" height="3.10" fill="#8c8c8c" stroke="#111" stroke-width="0.8"/>
<line x1="81.85" y1="287.4" x2="81.85" y2="289.1" stroke="#222" stroke-width="0.9"/>
<line x1="79.25" y1="287.4" x2="84.44999999999999" y2="287.4" stroke="#222" stroke-width="1"/>
<rect x="90.5" y="272.9" width="17.40" height="19.30" fill="#000" stroke="#111" stroke-width="0.8"/>
<line x1="99.2" y1="268.7" x2="99.2" y2="272.9" stroke="#222" stroke-width="0.9"/>
<line x1="96.60000000000001" y1="268.7" x2="101.8" y2="268.7" stroke="#222" stroke-width="1"/>
<rect x="119.6" y="273.5" width="17.00" height="18.70" fill="#c4c4c4" stroke="#111" stroke-width="0.8"/>
<line x1="128.1" y1="270.5" x2="128.1" y2="273.5" stroke="#222" stroke-width="0.9"/>
<line x1="125.5" y1="270.5" x2="130.7" y2="270.5" stroke="#222" stroke-width="1"/>
<rect x="136.6" y="201.5" width="17.70" height="90.70" fill="#000" stroke="#111" stroke-width="0.8"/>
<line x1="145.45" y1="197.2" x2="145.45" y2="201.5" stroke="#222" stroke-width="0.9"/>
<line x1="142.85" y1="197.2" x2="148.04999999999998" y2="197.2" stroke="#222" stroke-width="1"/>
<rect x="88.1" y="308.2" width="3.9" height="1.5" fill="#222"/>
<rect x="132.2" y="306.9" width="7.5" height="1.4" fill="#111"/>
<rect x="135.2" y="304.0" width="1.4" height="7.1" fill="#111"/>
<line x1="187.4" y1="166.2" x2="280" y2="166.2" stroke="#333" stroke-width="1"/>
<line x1="187.4" y1="166.2" x2="187.4" y2="292.2" stroke="#333" stroke-width="1"/>
<line x1="184.4" y1="292.2" x2="280" y2="292.2" stroke="#333" stroke-width="1"/>
<line x1="280" y1="166.2" x2="280" y2="294.7" stroke="#333" stroke-width="1"/>
<line x1="187.4" y1="292.2" x2="187.4" y2="294.7" stroke="#333" stroke-width="1"/>
<line x1="233.8" y1="292.2" x2="233.8" y2="294.7" stroke="#333" stroke-width="1"/>
<text x="208.4" y="159.8" font-size="14.3" text-anchor="start" font-weight="normal" font-style="normal" fill="#000" stroke="#000" stroke-width="0.18">Donor 2</text>
<line x1="184.20000000000002" y1="292.2" x2="187.4" y2="292.2" stroke="#333" stroke-width="1"/>
<text x="180.0" y="295.34999999999997" font-size="8.8" text-anchor="end" font-weight="normal" font-style="normal" fill="#000" stroke="#000" stroke-width="0.18">0</text>
<line x1="184.20000000000002" y1="260.7" x2="187.4" y2="260.7" stroke="#333" stroke-width="1"/>
<text x="180.0" y="263.84999999999997" font-size="8.8" text-anchor="end" font-weight="normal" font-style="normal" fill="#000" stroke="#000" stroke-width="0.18">25</text>
<line x1="184.20000000000002" y1="229.2" x2="187.4" y2="229.2" stroke="#333" stroke-width="1"/>
<text x="180.0" y="232.35" font-size="8.8" text-anchor="end" font-weight="normal" font-style="normal" fill="#000" stroke="#000" stroke-width="0.18">50</text>
<line x1="184.20000000000002" y1="197.7" x2="187.4" y2="197.7" stroke="#333" stroke-width="1"/>
<text x="180.0" y="200.85" font-size="8.8" text-anchor="end" font-weight="normal" font-style="normal" fill="#000" stroke="#000" stroke-width="0.18">75</text>
<line x1="184.20000000000002" y1="166.2" x2="187.4" y2="166.2" stroke="#333" stroke-width="1"/>
<text x="180.0" y="169.35" font-size="8.8" text-anchor="end" font-weight="normal" font-style="normal" fill="#000" stroke="#000" stroke-width="0.18">100</text>
<rect x="256.3" y="240" width="18.00" height="52.20" fill="#000" stroke="#111" stroke-width="0.8"/>
<line x1="265.3" y1="233.2" x2="265.3" y2="240" stroke="#222" stroke-width="0.9"/>
<line x1="262.7" y1="233.2" x2="267.90000000000003" y2="233.2" stroke="#222" stroke-width="1"/>
<text x="199.79999999999998" y="287.6" font-size="11" text-anchor="start" font-weight="normal" font-style="normal" fill="#000" stroke="#000" stroke-width="0.18">&lt;15</text>
<rect x="208.2" y="308.2" width="3.9" height="1.5" fill="#222"/>
<rect x="252.3" y="306.9" width="7.5" height="1.4" fill="#111"/>
<rect x="255.3" y="304.0" width="1.4" height="7.1" fill="#111"/>
<line x1="312.6" y1="166.2" x2="397.8" y2="166.2" stroke="#333" stroke-width="1"/>
<line x1="312.6" y1="166.2" x2="312.6" y2="292.2" stroke="#333" stroke-width="1"/>
<line x1="309.6" y1="292.2" x2="397.8" y2="292.2" stroke="#333" stroke-width="1"/>
<line x1="397.8" y1="166.2" x2="397.8" y2="294.7" stroke="#333" stroke-width="1"/>
<line x1="312.6" y1="292.2" x2="312.6" y2="294.7" stroke="#333" stroke-width="1"/>
<line x1="355" y1="292.2" x2="355" y2="294.7" stroke="#333" stroke-width="1"/>
<text x="328.2" y="159.8" font-size="14.3" text-anchor="start" font-weight="normal" font-style="normal" fill="#000" stroke="#000" stroke-width="0.18">Donor 3</text>
<line x1="309.40000000000003" y1="292.2" x2="312.6" y2="292.2" stroke="#333" stroke-width="1"/>
<text x="305.20000000000005" y="295.34999999999997" font-size="8.8" text-anchor="end" font-weight="normal" font-style="normal" fill="#000" stroke="#000" stroke-width="0.18">0</text>
<line x1="309.40000000000003" y1="260.7" x2="312.6" y2="260.7" stroke="#333" stroke-width="1"/>
<text x="305.20000000000005" y="263.84999999999997" font-size="8.8" text-anchor="end" font-weight="normal" font-style="normal" fill="#000" stroke="#000" stroke-width="0.18">500</text>
<line x1="309.40000000000003" y1="229.2" x2="312.6" y2="229.2" stroke="#333" stroke-width="1"/>
<text x="305.20000000000005" y="232.35" font-size="8.8" text-anchor="end" font-weight="normal" font-style="normal" fill="#000" stroke="#000" stroke-width="0.18">1000</text>
<line x1="309.40000000000003" y1="197.7" x2="312.6" y2="197.7" stroke="#333" stroke-width="1"/>
<text x="305.20000000000005" y="200.85" font-size="8.8" text-anchor="end" font-weight="normal" font-style="normal" fill="#000" stroke="#000" stroke-width="0.18">1500</text>
<line x1="309.40000000000003" y1="166.2" x2="312.6" y2="166.2" stroke="#333" stroke-width="1"/>
<text x="305.20000000000005" y="169.35" font-size="8.8" text-anchor="end" font-weight="normal" font-style="normal" fill="#000" stroke="#000" stroke-width="0.18">2000</text>
<rect x="360.5" y="286.3" width="15.90" height="5.90" fill="#c4c4c4" stroke="#111" stroke-width="0.8"/>
<line x1="368.45" y1="285.3" x2="368.45" y2="286.3" stroke="#222" stroke-width="0.9"/>
<line x1="365.84999999999997" y1="285.3" x2="371.05" y2="285.3" stroke="#222" stroke-width="1"/>
<rect x="376.4" y="197.5" width="15.90" height="94.70" fill="#000" stroke="#111" stroke-width="0.8"/>
<line x1="384.35" y1="192.4" x2="384.35" y2="197.5" stroke="#222" stroke-width="0.9"/>
<line x1="381.75" y1="192.4" x2="386.95000000000005" y2="192.4" stroke="#222" stroke-width="1"/>
<text x="323.20000000000005" y="287.6" font-size="11" text-anchor="start" font-weight="normal" font-style="normal" fill="#000" stroke="#000" stroke-width="0.18">&lt;15</text>
<rect x="328.2" y="308.2" width="3.9" height="1.5" fill="#222"/>
<rect x="372.3" y="306.9" width="7.5" height="1.4" fill="#111"/>
<rect x="375.3" y="304.0" width="1.4" height="7.1" fill="#111"/>
<line x1="430.4" y1="166.2" x2="519.3" y2="166.2" stroke="#333" stroke-width="1"/>
<line x1="430.4" y1="166.2" x2="430.4" y2="292.2" stroke="#333" stroke-width="1"/>
<line x1="427.4" y1="292.2" x2="519.3" y2="292.2" stroke="#333" stroke-width="1"/>
<line x1="519.3" y1="166.2" x2="519.3" y2="294.7" stroke="#333" stroke-width="1"/>
<line x1="430.4" y1="292.2" x2="430.4" y2="294.7" stroke="#333" stroke-width="1"/>
<line x1="475.8" y1="292.2" x2="475.8" y2="294.7" stroke="#333" stroke-width="1"/>
<text x="448.1" y="159.8" font-size="14.3" text-anchor="start" font-weight="normal" font-style="normal" fill="#000" stroke="#000" stroke-width="0.18">Donor 4</text>
<line x1="427.2" y1="292.2" x2="430.4" y2="292.2" stroke="#333" stroke-width="1"/>
<text x="423.0" y="295.34999999999997" font-size="8.8" text-anchor="end" font-weight="normal" font-style="normal" fill="#000" stroke="#000" stroke-width="0.18">0</text>
<line x1="427.2" y1="260.7" x2="430.4" y2="260.7" stroke="#333" stroke-width="1"/>
<text x="423.0" y="263.84999999999997" font-size="8.8" text-anchor="end" font-weight="normal" font-style="normal" fill="#000" stroke="#000" stroke-width="0.18">250</text>
<line x1="427.2" y1="229.2" x2="430.4" y2="229.2" stroke="#333" stroke-width="1"/>
<text x="423.0" y="232.35" font-size="8.8" text-anchor="end" font-weight="normal" font-style="normal" fill="#000" stroke="#000" stroke-width="0.18">500</text>
<line x1="427.2" y1="197.7" x2="430.4" y2="197.7" stroke="#333" stroke-width="1"/>
<text x="423.0" y="200.85" font-size="8.8" text-anchor="end" font-weight="normal" font-style="normal" fill="#000" stroke="#000" stroke-width="0.18">750</text>
<line x1="427.2" y1="166.2" x2="430.4" y2="166.2" stroke="#333" stroke-width="1"/>
<text x="423.0" y="169.35" font-size="8.8" text-anchor="end" font-weight="normal" font-style="normal" fill="#000" stroke="#000" stroke-width="0.18">1000</text>
<rect x="497" y="217.3" width="17.10" height="74.90" fill="#000" stroke="#111" stroke-width="0.8"/>
<line x1="505.55" y1="212.5" x2="505.55" y2="217.3" stroke="#222" stroke-width="0.9"/>
<line x1="502.95" y1="212.5" x2="508.15000000000003" y2="212.5" stroke="#222" stroke-width="1"/>
<text x="442.0" y="287.6" font-size="11" text-anchor="start" font-weight="normal" font-style="normal" fill="#000" stroke="#000" stroke-width="0.18">&lt;15</text>
<rect x="448.4" y="308.2" width="3.9" height="1.5" fill="#222"/>
<rect x="493.3" y="306.9" width="7.5" height="1.4" fill="#111"/>
<rect x="496.3" y="304.0" width="1.4" height="7.1" fill="#111"/>
<rect x="72.40" y="172.60" width="5.20" height="4.60" fill="#d0d0d0" stroke="#333" stroke-width="0.9"/>
<rect x="72.20" y="182.20" width="5.60" height="5.00" fill="#000" stroke="#000" stroke-width="0.5"/>
<text x="80" y="177.4" font-size="8.3" text-anchor="start" font-weight="normal" font-style="normal" fill="#111" stroke="#000" stroke-width="0.18">Naïve IL1R1-</text>
<text x="80" y="187.2" font-size="8.3" text-anchor="start" font-weight="normal" font-style="normal" fill="#111" stroke="#000" stroke-width="0.18">Naïve IL1R1+</text>
<text x="39.2" y="263.0" font-size="10.7" text-anchor="start" font-weight="normal" font-style="normal" fill="#000" transform="rotate(-90 39.2 263.0)" stroke="#000" stroke-width="0.18">IL-17 (pg/mL)</text>
<text x="28.9" y="312.4" font-size="12.9" fill="#000" stroke="#000" stroke-width="0.18">IL-1<tspan font-family="Liberation Serif, serif" font-size="13.8">β</tspan></text>
<line x1="101.3" y1="321.8" x2="487.5" y2="321.8" stroke="#333" stroke-width="1.2"/>
<text x="237" y="337" font-size="12.5" text-anchor="start" font-weight="normal" font-style="normal" fill="#000" stroke="#000" stroke-width="0.18">anti-CD3 + anti-CD28</text>
<line x1="50.2" y1="360.6" x2="126.2" y2="360.6" stroke="#333" stroke-width="1"/>
<line x1="50.2" y1="360.6" x2="50.2" y2="451.3" stroke="#333" stroke-width="1"/>
<line x1="47.2" y1="451.3" x2="126.2" y2="451.3" stroke="#333" stroke-width="1"/>
<line x1="126.2" y1="360.6" x2="126.2" y2="453.8" stroke="#333" stroke-width="1"/>
<line x1="50.2" y1="451.3" x2="50.2" y2="453.8" stroke="#333" stroke-width="1"/>
<line x1="88.2" y1="451.3" x2="88.2" y2="453.8" stroke="#333" stroke-width="1"/>
<line x1="47.0" y1="451.3" x2="50.2" y2="451.3" stroke="#333" stroke-width="1"/>
<text x="43.0" y="454.3" font-size="8.4" text-anchor="end" font-weight="normal" font-style="normal" fill="#000" stroke="#000" stroke-width="0.18">0</text>
<line x1="47.0" y1="428.625" x2="50.2" y2="428.625" stroke="#333" stroke-width="1"/>
<text x="43.0" y="431.625" font-size="8.4" text-anchor="end" font-weight="normal" font-style="normal" fill="#000" stroke="#000" stroke-width="0.18">5</text>
<line x1="47.0" y1="405.95000000000005" x2="50.2" y2="405.95000000000005" stroke="#333" stroke-width="1"/>
<text x="43.0" y="408.95000000000005" font-size="8.4" text-anchor="end" font-weight="normal" font-style="normal" fill="#000" stroke="#000" stroke-width="0.18">10</text>
<line x1="47.0" y1="383.27500000000003" x2="50.2" y2="383.27500000000003" stroke="#333" stroke-width="1"/>
<text x="43.0" y="386.27500000000003" font-size="8.4" text-anchor="end" font-weight="normal" font-style="normal" fill="#000" stroke="#000" stroke-width="0.18">15</text>
<line x1="47.0" y1="360.6" x2="50.2" y2="360.6" stroke="#333" stroke-width="1"/>
<text x="43.0" y="363.6" font-size="8.4" text-anchor="end" font-weight="normal" font-style="normal" fill="#000" stroke="#000" stroke-width="0.18">20</text>
<rect x="61.8" y="447" width="15.70" height="4.30" fill="#c4c4c4" stroke="#111" stroke-width="0.8"/>
<rect x="99.5" y="389.5" width="15.50" height="61.80" fill="#000" stroke="#111" stroke-width="0.8"/>
<line x1="107.25" y1="382.5" x2="107.25" y2="389.5" stroke="#222" stroke-width="0.9"/>
<line x1="105.05" y1="382.5" x2="109.45" y2="382.5" stroke="#222" stroke-width="1"/>
<text x="26.5" y="407.3" font-size="10.4" text-anchor="middle" font-weight="normal" font-style="italic" fill="#000" transform="rotate(-90 26.5 407.3)" stroke="#000" stroke-width="0.3">IL-17F/ACTB</text>
<text x="58.3" y="465.8" font-size="8.2" text-anchor="start" font-weight="normal" font-style="normal" fill="#000" stroke="#000" stroke-width="0.34">IL-1RI-</text>
<text x="95.4" y="465.8" font-size="8.2" text-anchor="start" font-weight="normal" font-style="normal" fill="#000" stroke="#000" stroke-width="0.34">IL-1RI+</text>
<line x1="167.4" y1="360.7" x2="243.8" y2="360.7" stroke="#333" stroke-width="1"/>
<line x1="167.4" y1="360.7" x2="167.4" y2="451.3" stroke="#333" stroke-width="1"/>
<line x1="164.4" y1="451.3" x2="243.8" y2="451.3" stroke="#333" stroke-width="1"/>
<line x1="243.8" y1="360.7" x2="243.8" y2="453.8" stroke="#333" stroke-width="1"/>
<line x1="167.4" y1="451.3" x2="167.4" y2="453.8" stroke="#333" stroke-width="1"/>
<line x1="205.8" y1="451.3" x2="205.8" y2="453.8" stroke="#333" stroke-width="1"/>
<line x1="164.20000000000002" y1="451.3" x2="167.4" y2="451.3" stroke="#333" stroke-width="1"/>
<text x="160.20000000000002" y="454.3" font-size="8.4" text-anchor="end" font-weight="normal" font-style="normal" fill="#000" stroke="#000" stroke-width="0.18">0</text>
<line x1="164.20000000000002" y1="428.65" x2="167.4" y2="428.65" stroke="#333" stroke-width="1"/>
<text x="160.20000000000002" y="431.65" font-size="8.4" text-anchor="end" font-weight="normal" font-style="normal" fill="#000" stroke="#000" stroke-width="0.18">2</text>
<line x1="164.20000000000002" y1="406.0" x2="167.4" y2="406.0" stroke="#333" stroke-width="1"/>
<text x="160.20000000000002" y="409.0" font-size="8.4" text-anchor="end" font-weight="normal" font-style="normal" fill="#000" stroke="#000" stroke-width="0.18">4</text>
<line x1="164.20000000000002" y1="383.35" x2="167.4" y2="383.35" stroke="#333" stroke-width="1"/>
<text x="160.20000000000002" y="386.35" font-size="8.4" text-anchor="end" font-weight="normal" font-style="normal" fill="#000" stroke="#000" stroke-width="0.18">6</text>
<line x1="164.20000000000002" y1="360.7" x2="167.4" y2="360.7" stroke="#333" stroke-width="1"/>
<text x="160.20000000000002" y="363.7" font-size="8.4" text-anchor="end" font-weight="normal" font-style="normal" fill="#000" stroke="#000" stroke-width="0.18">8</text>
<rect x="178.8" y="440" width="16.20" height="11.30" fill="#c4c4c4" stroke="#111" stroke-width="0.8"/>
<rect x="216.8" y="395" width="15.70" height="56.30" fill="#000" stroke="#111" stroke-width="0.8"/>
<line x1="224.65" y1="383.2" x2="224.65" y2="395" stroke="#222" stroke-width="0.9"/>
<line x1="222.45000000000002" y1="383.2" x2="226.85" y2="383.2" stroke="#222" stroke-width="1"/>
<text x="148.5" y="406.9" font-size="10.4" text-anchor="middle" font-weight="normal" font-style="italic" fill="#000" transform="rotate(-90 148.5 406.9)" stroke="#000" stroke-width="0.3">RORC/ACTB</text>
<text x="176" y="465.8" font-size="8.2" text-anchor="start" font-weight="normal" font-style="normal" fill="#000" stroke="#000" stroke-width="0.34">IL-1RI-</text>
<text x="213" y="465.8" font-size="8.2" text-anchor="start" font-weight="normal" font-style="normal" fill="#000" stroke="#000" stroke-width="0.34">IL-1RI+</text>
<line x1="286.8" y1="361.0" x2="362.2" y2="361.0" stroke="#333" stroke-width="1"/>
<line x1="286.8" y1="361.0" x2="286.8" y2="451.7" stroke="#333" stroke-width="1"/>
<line x1="283.8" y1="451.7" x2="362.2" y2="451.7" stroke="#333" stroke-width="1"/>
<line x1="362.2" y1="361.0" x2="362.2" y2="454.2" stroke="#333" stroke-width="1"/>
<line x1="286.8" y1="451.7" x2="286.8" y2="454.2" stroke="#333" stroke-width="1"/>
<line x1="324.2" y1="451.7" x2="324.2" y2="454.2" stroke="#333" stroke-width="1"/>
<line x1="283.6" y1="451.7" x2="286.8" y2="451.7" stroke="#333" stroke-width="1"/>
<text x="279.6" y="454.7" font-size="8.4" text-anchor="end" font-weight="normal" font-style="normal" fill="#000" stroke="#000" stroke-width="0.18">0</text>
<line x1="283.6" y1="433.56" x2="286.8" y2="433.56" stroke="#333" stroke-width="1"/>
<text x="279.6" y="436.56" font-size="8.4" text-anchor="end" font-weight="normal" font-style="normal" fill="#000" stroke="#000" stroke-width="0.18">1</text>
<line x1="283.6" y1="415.42" x2="286.8" y2="415.42" stroke="#333" stroke-width="1"/>
<text x="279.6" y="418.42" font-size="8.4" text-anchor="end" font-weight="normal" font-style="normal" fill="#000" stroke="#000" stroke-width="0.18">2</text>
<line x1="283.6" y1="397.28" x2="286.8" y2="397.28" stroke="#333" stroke-width="1"/>
<text x="279.6" y="400.28" font-size="8.4" text-anchor="end" font-weight="normal" font-style="normal" fill="#000" stroke="#000" stroke-width="0.18">3</text>
<line x1="283.6" y1="379.14" x2="286.8" y2="379.14" stroke="#333" stroke-width="1"/>
<text x="279.6" y="382.14" font-size="8.4" text-anchor="end" font-weight="normal" font-style="normal" fill="#000" stroke="#000" stroke-width="0.18">4</text>
<line x1="283.6" y1="361.0" x2="286.8" y2="361.0" stroke="#333" stroke-width="1"/>
<text x="279.6" y="364.0" font-size="8.4" text-anchor="end" font-weight="normal" font-style="normal" fill="#000" stroke="#000" stroke-width="0.18">5</text>
<rect x="297" y="433.7" width="15.50" height="18.00" fill="#c4c4c4" stroke="#111" stroke-width="0.8"/>
<rect x="335" y="405" width="15.50" height="46.70" fill="#000" stroke="#111" stroke-width="0.8"/>
<line x1="342.75" y1="390.7" x2="342.75" y2="405" stroke="#222" stroke-width="0.9"/>
<line x1="340.55" y1="390.7" x2="344.95" y2="390.7" stroke="#222" stroke-width="1"/>
<text x="267.5" y="407.2" font-size="10.4" text-anchor="middle" font-weight="normal" font-style="italic" fill="#000" transform="rotate(-90 267.5 407.2)" stroke="#000" stroke-width="0.3">RORA/ACTB</text>
<text x="293.7" y="465.8" font-size="8.2" text-anchor="start" font-weight="normal" font-style="normal" fill="#000" stroke="#000" stroke-width="0.34">IL-1RI-</text>
<text x="332.5" y="465.8" font-size="8.2" text-anchor="start" font-weight="normal" font-style="normal" fill="#000" stroke="#000" stroke-width="0.34">IL-1RI+</text>
<line x1="397" y1="360.7" x2="469.3" y2="360.7" stroke="#333" stroke-width="1"/>
<line x1="397" y1="360.7" x2="397" y2="449.3" stroke="#333" stroke-width="1"/>
<line x1="394" y1="449.3" x2="469.3" y2="449.3" stroke="#333" stroke-width="1"/>
<line x1="469.3" y1="360.7" x2="469.3" y2="451.8" stroke="#333" stroke-width="1"/>
<line x1="397" y1="449.3" x2="397" y2="451.8" stroke="#333" stroke-width="1"/>
<line x1="433" y1="449.3" x2="433" y2="451.8" stroke="#333" stroke-width="1"/>
<line x1="393.8" y1="449.3" x2="397" y2="449.3" stroke="#333" stroke-width="1"/>
<text x="389.8" y="452.3" font-size="8.4" text-anchor="end" font-weight="normal" font-style="normal" fill="#000" stroke="#000" stroke-width="0.18">0</text>
<line x1="393.8" y1="419.76666666666665" x2="397" y2="419.76666666666665" stroke="#333" stroke-width="1"/>
<text x="389.8" y="422.76666666666665" font-size="8.4" text-anchor="end" font-weight="normal" font-style="normal" fill="#000" stroke="#000" stroke-width="0.18">1</text>
<line x1="393.8" y1="390.23333333333335" x2="397" y2="390.23333333333335" stroke="#333" stroke-width="1"/>
<text x="389.8" y="393.23333333333335" font-size="8.4" text-anchor="end" font-weight="normal" font-style="normal" fill="#000" stroke="#000" stroke-width="0.18">2</text>
<line x1="393.8" y1="360.7" x2="397" y2="360.7" stroke="#333" stroke-width="1"/>
<text x="389.8" y="363.7" font-size="8.4" text-anchor="end" font-weight="normal" font-style="normal" fill="#000" stroke="#000" stroke-width="0.18">3</text>
<rect x="408.3" y="420" width="14.70" height="29.30" fill="#c4c4c4" stroke="#111" stroke-width="0.8"/>
<rect x="443.8" y="407" width="14.50" height="42.30" fill="#000" stroke="#111" stroke-width="0.8"/>
<line x1="451.05" y1="405" x2="451.05" y2="407" stroke="#222" stroke-width="0.9"/>
<line x1="448.85" y1="405" x2="453.25" y2="405" stroke="#222" stroke-width="1"/>
<text x="379.0" y="405.5" font-size="10.4" text-anchor="middle" font-weight="normal" font-style="italic" fill="#000" transform="rotate(-90 379.0 405.5)" stroke="#000" stroke-width="0.3">IRF4/ACTB</text>
<text x="405" y="462.3" font-size="7.482499999999999" text-anchor="start" font-weight="normal" font-style="normal" fill="#000" stroke="#000" stroke-width="0.34">IL-1RI-</text>
<text x="439.6" y="462.3" font-size="7.482499999999999" text-anchor="start" font-weight="normal" font-style="normal" fill="#000" stroke="#000" stroke-width="0.34">IL-1RI+</text>
<line x1="50" y1="475.8" x2="124.6" y2="475.8" stroke="#333" stroke-width="1"/>
<line x1="50" y1="475.8" x2="50" y2="566.3" stroke="#333" stroke-width="1"/>
<line x1="47" y1="566.3" x2="124.6" y2="566.3" stroke="#333" stroke-width="1"/>
<line x1="124.6" y1="475.8" x2="124.6" y2="568.8" stroke="#333" stroke-width="1"/>
<line x1="50" y1="566.3" x2="50" y2="568.8" stroke="#333" stroke-width="1"/>
<line x1="87.5" y1="566.3" x2="87.5" y2="568.8" stroke="#333" stroke-width="1"/>
<line x1="46.8" y1="566.3" x2="50" y2="566.3" stroke="#333" stroke-width="1"/>
<text x="42.8" y="569.3" font-size="8.4" text-anchor="end" font-weight="normal" font-style="normal" fill="#000" stroke="#000" stroke-width="0.18">0</text>
<line x1="46.8" y1="548.1999999999999" x2="50" y2="548.1999999999999" stroke="#333" stroke-width="1"/>
<text x="42.8" y="551.1999999999999" font-size="8.4" text-anchor="end" font-weight="normal" font-style="normal" fill="#000" stroke="#000" stroke-width="0.18">1</text>
<line x1="46.8" y1="530.1" x2="50" y2="530.1" stroke="#333" stroke-width="1"/>
<text x="42.8" y="533.1" font-size="8.4" text-anchor="end" font-weight="normal" font-style="normal" fill="#000" stroke="#000" stroke-width="0.18">2</text>
<line x1="46.8" y1="512.0" x2="50" y2="512.0" stroke="#333" stroke-width="1"/>
<text x="42.8" y="515.0" font-size="8.4" text-anchor="end" font-weight="normal" font-style="normal" fill="#000" stroke="#000" stroke-width="0.18">3</text>
<line x1="46.8" y1="493.9" x2="50" y2="493.9" stroke="#333" stroke-width="1"/>
<text x="42.8" y="496.9" font-size="8.4" text-anchor="end" font-weight="normal" font-style="normal" fill="#000" stroke="#000" stroke-width="0.18">4</text>
<line x1="46.8" y1="475.8" x2="50" y2="475.8" stroke="#333" stroke-width="1"/>
<text x="42.8" y="478.8" font-size="8.4" text-anchor="end" font-weight="normal" font-style="normal" fill="#000" stroke="#000" stroke-width="0.18">5</text>
<rect x="60.5" y="548" width="15.80" height="18.30" fill="#c4c4c4" stroke="#111" stroke-width="0.8"/>
<rect x="98.3" y="549.5" width="15.50" height="16.80" fill="#000" stroke="#111" stroke-width="0.8"/>
<line x1="106.05" y1="546.2" x2="106.05" y2="549.5" stroke="#222" stroke-width="0.9"/>
<line x1="103.85" y1="546.2" x2="108.25" y2="546.2" stroke="#222" stroke-width="1"/>
<text x="29.0" y="522.3" font-size="10.4" text-anchor="middle" font-weight="normal" font-style="italic" fill="#000" transform="rotate(-90 29.0 522.3)" stroke="#000" stroke-width="0.3">IL-21/ACTB</text>
<text x="58" y="579.8" font-size="8.2" text-anchor="start" font-weight="normal" font-style="normal" fill="#000" stroke="#000" stroke-width="0.34">IL-1RI-</text>
<text x="95" y="579.8" font-size="8.2" text-anchor="start" font-weight="normal" font-style="normal" fill="#000" stroke="#000" stroke-width="0.34">IL-1RI+</text>
<line x1="167.2" y1="476.0" x2="244" y2="476.0" stroke="#333" stroke-width="1"/>
<line x1="167.2" y1="476.0" x2="167.2" y2="567.5" stroke="#333" stroke-width="1"/>
<line x1="164.2" y1="567.5" x2="244" y2="567.5" stroke="#333" stroke-width="1"/>
<line x1="244" y1="476.0" x2="244" y2="570.0" stroke="#333" stroke-width="1"/>
<line x1="167.2" y1="567.5" x2="167.2" y2="570.0" stroke="#333" stroke-width="1"/>
<line x1="205.8" y1="567.5" x2="205.8" y2="570.0" stroke="#333" stroke-width="1"/>
<line x1="164.0" y1="567.5" x2="167.2" y2="567.5" stroke="#333" stroke-width="1"/>
<text x="160.0" y="570.5" font-size="8.4" text-anchor="end" font-weight="normal" font-style="normal" fill="#000" stroke="#000" stroke-width="0.18">0</text>
<line x1="164.0" y1="549.2" x2="167.2" y2="549.2" stroke="#333" stroke-width="1"/>
<text x="160.0" y="552.2" font-size="8.4" text-anchor="end" font-weight="normal" font-style="normal" fill="#000" stroke="#000" stroke-width="0.18">1</text>
<line x1="164.0" y1="530.9" x2="167.2" y2="530.9" stroke="#333" stroke-width="1"/>
<text x="160.0" y="533.9" font-size="8.4" text-anchor="end" font-weight="normal" font-style="normal" fill="#000" stroke="#000" stroke-width="0.18">2</text>
<line x1="164.0" y1="512.6" x2="167.2" y2="512.6" stroke="#333" stroke-width="1"/>
<text x="160.0" y="515.6" font-size="8.4" text-anchor="end" font-weight="normal" font-style="normal" fill="#000" stroke="#000" stroke-width="0.18">3</text>
<line x1="164.0" y1="494.3" x2="167.2" y2="494.3" stroke="#333" stroke-width="1"/>
<text x="160.0" y="497.3" font-size="8.4" text-anchor="end" font-weight="normal" font-style="normal" fill="#000" stroke="#000" stroke-width="0.18">4</text>
<line x1="164.0" y1="476.0" x2="167.2" y2="476.0" stroke="#333" stroke-width="1"/>
<text x="160.0" y="479.0" font-size="8.4" text-anchor="end" font-weight="normal" font-style="normal" fill="#000" stroke="#000" stroke-width="0.18">5</text>
<rect x="178.8" y="549.2" width="16.20" height="18.30" fill="#c4c4c4" stroke="#111" stroke-width="0.8"/>
<rect x="217.5" y="496.2" width="15.50" height="71.30" fill="#000" stroke="#111" stroke-width="0.8"/>
<line x1="225.25" y1="493.2" x2="225.25" y2="496.2" stroke="#222" stroke-width="0.9"/>
<line x1="223.05" y1="493.2" x2="227.45" y2="493.2" stroke="#222" stroke-width="1"/>
<text x="149.0" y="523.1" font-size="10.4" text-anchor="middle" font-weight="normal" font-style="italic" fill="#000" transform="rotate(-90 149.0 523.1)" stroke="#000" stroke-width="0.3">IL-26/ACTB</text>
<text x="176.2" y="581.3" font-size="8.2" text-anchor="start" font-weight="normal" font-style="normal" fill="#000" stroke="#000" stroke-width="0.34">IL-1RI-</text>
<text x="213" y="581.3" font-size="8.2" text-anchor="start" font-weight="normal" font-style="normal" fill="#000" stroke="#000" stroke-width="0.34">IL-1RI+</text>
<line x1="286.6" y1="476.6" x2="362.2" y2="476.6" stroke="#333" stroke-width="1"/>
<line x1="286.6" y1="476.6" x2="286.6" y2="568.6" stroke="#333" stroke-width="1"/>
<line x1="283.6" y1="568.6" x2="362.2" y2="568.6" stroke="#333" stroke-width="1"/>
<line x1="362.2" y1="476.6" x2="362.2" y2="571.1" stroke="#333" stroke-width="1"/>
<line x1="286.6" y1="568.6" x2="286.6" y2="571.1" stroke="#333" stroke-width="1"/>
<line x1="324.2" y1="568.6" x2="324.2" y2="571.1" stroke="#333" stroke-width="1"/>
<line x1="283.40000000000003" y1="568.6" x2="286.6" y2="568.6" stroke="#333" stroke-width="1"/>
<text x="279.40000000000003" y="571.6" font-size="8.4" text-anchor="end" font-weight="normal" font-style="normal" fill="#000" stroke="#000" stroke-width="0.18">0</text>
<line x1="283.40000000000003" y1="550.2" x2="286.6" y2="550.2" stroke="#333" stroke-width="1"/>
<text x="279.40000000000003" y="553.2" font-size="8.4" text-anchor="end" font-weight="normal" font-style="normal" fill="#000" stroke="#000" stroke-width="0.18">1</text>
<line x1="283.40000000000003" y1="531.8000000000001" x2="286.6" y2="531.8000000000001" stroke="#333" stroke-width="1"/>
<text x="279.40000000000003" y="534.8000000000001" font-size="8.4" text-anchor="end" font-weight="normal" font-style="normal" fill="#000" stroke="#000" stroke-width="0.18">2</text>
<line x1="283.40000000000003" y1="513.4" x2="286.6" y2="513.4" stroke="#333" stroke-width="1"/>
<text x="279.40000000000003" y="516.4" font-size="8.4" text-anchor="end" font-weight="normal" font-style="normal" fill="#000" stroke="#000" stroke-width="0.18">3</text>
<line x1="283.40000000000003" y1="495.0" x2="286.6" y2="495.0" stroke="#333" stroke-width="1"/>
<text x="279.40000000000003" y="498.0" font-size="8.4" text-anchor="end" font-weight="normal" font-style="normal" fill="#000" stroke="#000" stroke-width="0.18">4</text>
<line x1="283.40000000000003" y1="476.6" x2="286.6" y2="476.6" stroke="#333" stroke-width="1"/>
<text x="279.40000000000003" y="479.6" font-size="8.4" text-anchor="end" font-weight="normal" font-style="normal" fill="#000" stroke="#000" stroke-width="0.18">5</text>
<rect x="297" y="550" width="15.50" height="18.60" fill="#c4c4c4" stroke="#111" stroke-width="0.8"/>
<rect x="335.5" y="523.7" width="15.70" height="44.90" fill="#000" stroke="#111" stroke-width="0.8"/>
<line x1="343.35" y1="507.5" x2="343.35" y2="523.7" stroke="#222" stroke-width="0.9"/>
<line x1="341.15000000000003" y1="507.5" x2="345.55" y2="507.5" stroke="#222" stroke-width="1"/>
<text x="267.40000000000003" y="523.9" font-size="10.4" text-anchor="middle" font-weight="normal" font-style="italic" fill="#000" transform="rotate(-90 267.40000000000003 523.9)" stroke="#000" stroke-width="0.3">IL-23R/ACTB</text>
<text x="293.7" y="581.8" font-size="8.2" text-anchor="start" font-weight="normal" font-style="normal" fill="#000" stroke="#000" stroke-width="0.34">IL-1RI-</text>
<text x="332.5" y="581.8" font-size="8.2" text-anchor="start" font-weight="normal" font-style="normal" fill="#000" stroke="#000" stroke-width="0.34">IL-1RI+</text>
</svg>
</body></html>
